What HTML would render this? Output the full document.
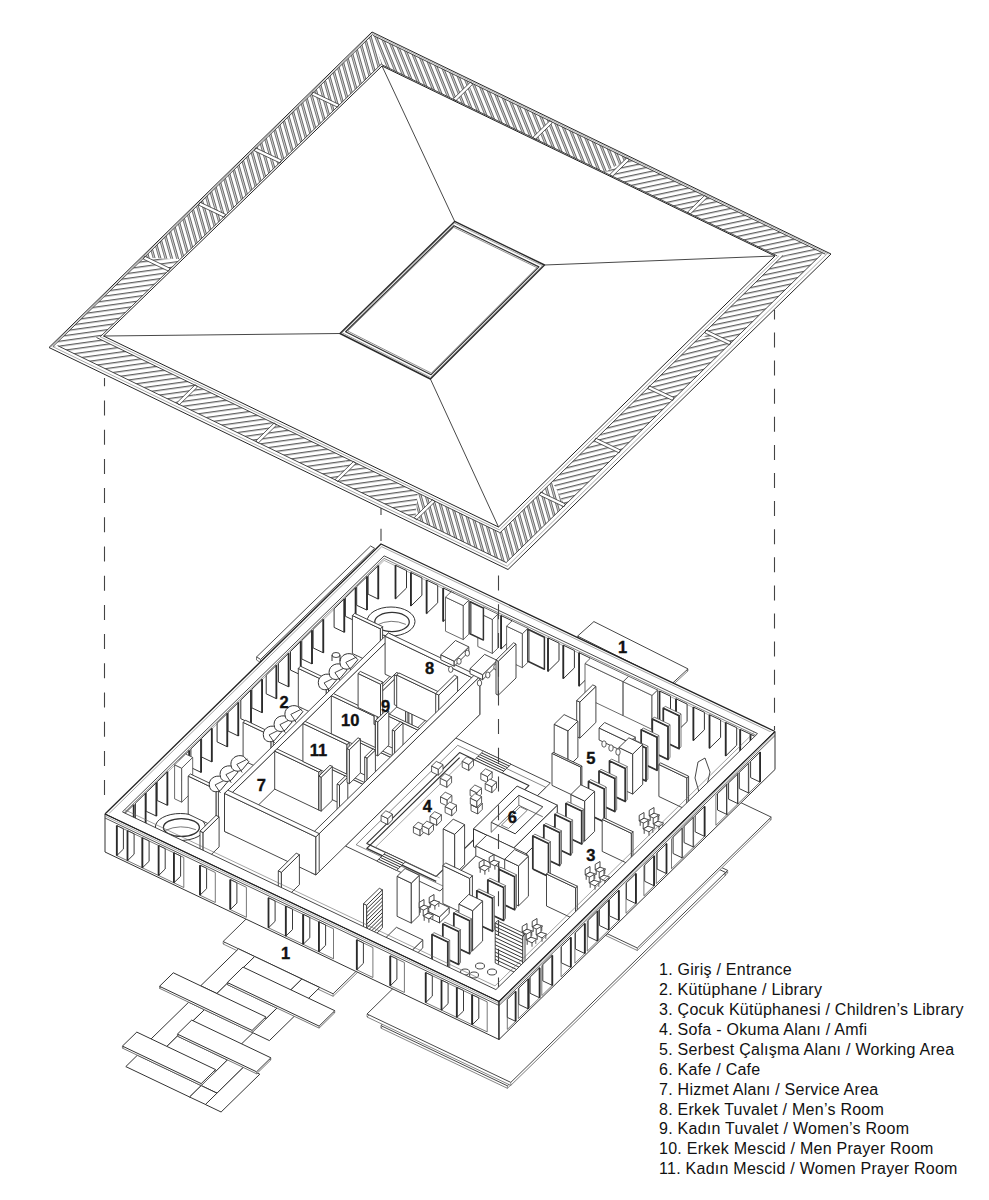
<!DOCTYPE html>
<html><head><meta charset="utf-8"><style>
html,body{margin:0;padding:0;background:#fff;}
body{width:989px;height:1200px;overflow:hidden;position:relative;font-family:"Liberation Sans",sans-serif;}
svg{position:absolute;left:0;top:0;}
#leg{position:absolute;left:659px;top:960.2px;font-size:16px;letter-spacing:0.26px;line-height:19.9px;color:#111;white-space:nowrap;}
</style></head><body>
<svg width="989" height="1200" viewBox="0 0 989 1200"><polygon points="57.7,345.7 178,403.8 204.6,389.8 96.5,337.5" fill="url(#h92)" stroke="none" stroke-linejoin="round" />
<polygon points="178,403.8 257,442 275.5,424.1 204.6,389.8" fill="url(#h92)" stroke="none" stroke-linejoin="round" />
<polygon points="257,442 336.4,480.4 346.9,458.6 275.5,424.1" fill="url(#h92)" stroke="none" stroke-linejoin="round" />
<polygon points="336.4,480.4 415.4,518.6 417.9,492.9 346.9,458.6" fill="url(#h92)" stroke="none" stroke-linejoin="round" />
<polygon points="415.4,518.6 506.5,562.7 499.7,532.5 417.9,492.9" fill="url(#h174)" stroke="none" stroke-linejoin="round" />
<polygon points="179.1,405 197.5,387 195.3,384.7 176.9,402.7" fill="#fff" stroke="#333" stroke-width="0.8" stroke-linejoin="round" />
<polygon points="258.1,443.2 276.5,425.2 274.3,422.9 255.9,440.9" fill="#fff" stroke="#333" stroke-width="0.8" stroke-linejoin="round" />
<polygon points="337.5,481.6 355.9,463.6 353.7,461.3 335.3,479.3" fill="#fff" stroke="#333" stroke-width="0.8" stroke-linejoin="round" />
<polygon points="416.5,519.8 434.9,501.8 432.7,499.5 414.3,517.5" fill="#fff" stroke="#333" stroke-width="0.8" stroke-linejoin="round" />
<polygon points="52.8,346.7 144,257.7 180.4,259 100.3,336.7" fill="url(#h92)" stroke="none" stroke-linejoin="round" />
<polygon points="144,257.7 199.3,203.7 229.1,211.8 180.4,259" fill="url(#h174)" stroke="none" stroke-linejoin="round" />
<polygon points="199.3,203.7 255,149.3 278,164.3 229.1,211.8" fill="url(#h174)" stroke="none" stroke-linejoin="round" />
<polygon points="255,149.3 312.2,93.4 328.3,115.5 278,164.3" fill="url(#h174)" stroke="none" stroke-linejoin="round" />
<polygon points="312.2,93.4 372.7,34.4 381.4,64 328.3,115.5" fill="url(#h174)" stroke="none" stroke-linejoin="round" />
<polygon points="143.3,259.1 168.6,271.2 170,268.3 144.7,256.2" fill="#fff" stroke="#333" stroke-width="0.8" stroke-linejoin="round" />
<polygon points="198.6,205.1 224.2,217.3 225.6,214.4 200,202.2" fill="#fff" stroke="#333" stroke-width="0.8" stroke-linejoin="round" />
<polygon points="254.3,150.8 280.1,163 281.5,160.1 255.7,147.9" fill="#fff" stroke="#333" stroke-width="0.8" stroke-linejoin="round" />
<polygon points="311.6,94.9 337.6,107.2 339,104.4 312.9,92" fill="#fff" stroke="#333" stroke-width="0.8" stroke-linejoin="round" />
<polygon points="373,35.4 471.6,83.1 467.8,106.3 381.6,64.6" fill="url(#h168)" stroke="none" stroke-linejoin="round" />
<polygon points="471.6,83.1 551.2,121.6 537.5,140 467.8,106.3" fill="url(#h168)" stroke="none" stroke-linejoin="round" />
<polygon points="551.2,121.6 628.2,158.8 604.7,172.5 537.5,140" fill="url(#h168)" stroke="none" stroke-linejoin="round" />
<polygon points="628.2,158.8 706,196.4 672.8,205.4 604.7,172.5" fill="url(#h88)" stroke="none" stroke-linejoin="round" />
<polygon points="706,196.4 825.4,254.2 777.2,255.9 672.8,205.4" fill="url(#h88)" stroke="none" stroke-linejoin="round" />
<polygon points="470.5,82 453.4,98.7 455.6,101 472.7,84.2" fill="#fff" stroke="#333" stroke-width="0.8" stroke-linejoin="round" />
<polygon points="550.1,120.5 533,137.2 535.2,139.5 552.4,122.8" fill="#fff" stroke="#333" stroke-width="0.8" stroke-linejoin="round" />
<polygon points="627,157.7 609.9,174.4 612.1,176.7 629.3,159.9" fill="#fff" stroke="#333" stroke-width="0.8" stroke-linejoin="round" />
<polygon points="704.8,195.3 687.7,212 690,214.3 707.1,197.6" fill="#fff" stroke="#333" stroke-width="0.8" stroke-linejoin="round" />
<polygon points="821.5,254.3 730.4,343.3 701.1,335.8 782.8,255.7" fill="url(#h88)" stroke="none" stroke-linejoin="round" />
<polygon points="730.4,343.3 673.4,399.1 649.8,386 701.1,335.8" fill="url(#h86)" stroke="none" stroke-linejoin="round" />
<polygon points="673.4,399.1 619.8,451.4 601.7,433.1 649.8,386" fill="url(#h86)" stroke="none" stroke-linejoin="round" />
<polygon points="619.8,451.4 564.7,505.3 552.2,481.7 601.7,433.1" fill="url(#h86)" stroke="none" stroke-linejoin="round" />
<polygon points="564.7,505.3 506.4,562.3 499.8,533 552.2,481.7" fill="url(#h174)" stroke="none" stroke-linejoin="round" />
<polygon points="731.1,341.9 706.2,330 704.8,332.9 729.7,344.8" fill="#fff" stroke="#333" stroke-width="0.8" stroke-linejoin="round" />
<polygon points="674.1,397.6 649.2,385.8 647.9,388.7 672.7,400.5" fill="#fff" stroke="#333" stroke-width="0.8" stroke-linejoin="round" />
<polygon points="620.5,450 595.8,438.2 594.4,441.1 619.1,452.9" fill="#fff" stroke="#333" stroke-width="0.8" stroke-linejoin="round" />
<polygon points="565.4,503.9 540.7,492.1 539.3,495 564,506.8" fill="#fff" stroke="#333" stroke-width="0.8" stroke-linejoin="round" />
<defs><pattern id="h92" width="40" height="4.8" patternUnits="userSpaceOnUse" patternTransform="rotate(-8)"><rect width="40" height="4.8" fill="#fff"/><line x1="0" y1="0.7" x2="40" y2="0.7" stroke="#2a2a2a" stroke-width="1.15"/></pattern><pattern id="h174" width="40" height="5.6" patternUnits="userSpaceOnUse" patternTransform="rotate(74)"><rect width="40" height="5.6" fill="#fff"/><line x1="0" y1="0.6" x2="40" y2="0.6" stroke="#333" stroke-width="0.85"/><line x1="0" y1="2.2" x2="40" y2="2.2" stroke="#444" stroke-width="0.85"/></pattern><pattern id="h168" width="40" height="5.6" patternUnits="userSpaceOnUse" patternTransform="rotate(68)"><rect width="40" height="5.6" fill="#fff"/><line x1="0" y1="0.6" x2="40" y2="0.6" stroke="#333" stroke-width="0.85"/><line x1="0" y1="2.2" x2="40" y2="2.2" stroke="#444" stroke-width="0.85"/></pattern><pattern id="h88" width="40" height="4.8" patternUnits="userSpaceOnUse" patternTransform="rotate(-12)"><rect width="40" height="4.8" fill="#fff"/><line x1="0" y1="0.7" x2="40" y2="0.7" stroke="#2a2a2a" stroke-width="1.15"/></pattern><pattern id="h86" width="40" height="4.8" patternUnits="userSpaceOnUse" patternTransform="rotate(-14)"><rect width="40" height="4.8" fill="#fff"/><line x1="0" y1="0.7" x2="40" y2="0.7" stroke="#2a2a2a" stroke-width="1.15"/></pattern></defs>
<line x1="57.7" y1="345.7" x2="506.5" y2="562.7" stroke="#333" stroke-width="0.9" />
<line x1="52.9" y1="346.7" x2="507.3" y2="566.4" stroke="#777" stroke-width="0.6" />
<line x1="96.5" y1="337.5" x2="499.7" y2="532.5" stroke="#333" stroke-width="0.9" />
<line x1="100.1" y1="336.7" x2="499.1" y2="529.8" stroke="#777" stroke-width="0.6" />
<line x1="52.8" y1="346.7" x2="372.7" y2="34.4" stroke="#333" stroke-width="0.9" />
<line x1="50.7" y1="347.1" x2="372.3" y2="33.1" stroke="#777" stroke-width="0.6" />
<line x1="100.3" y1="336.7" x2="381.4" y2="64" stroke="#333" stroke-width="0.9" />
<line x1="373" y1="35.4" x2="825.4" y2="254.2" stroke="#333" stroke-width="0.9" />
<line x1="372.4" y1="33.5" x2="828.5" y2="254.1" stroke="#777" stroke-width="0.6" />
<line x1="381.6" y1="64.6" x2="777.2" y2="255.9" stroke="#333" stroke-width="0.9" />
<line x1="821.5" y1="254.3" x2="506.4" y2="562.3" stroke="#333" stroke-width="0.9" />
<line x1="826.7" y1="254.2" x2="507.3" y2="566.2" stroke="#777" stroke-width="0.6" />
<line x1="782.8" y1="255.7" x2="499.8" y2="533" stroke="#333" stroke-width="0.9" />
<line x1="778.9" y1="255.9" x2="499.2" y2="530" stroke="#777" stroke-width="0.6" />
<polygon points="49,347.5 372,32 831,254 508,569.5" fill="none" stroke="#2a2a2a" stroke-width="1.0" stroke-linejoin="round" />
<polygon points="103.6,336 382,66 775,256 498.5,527" fill="none" stroke="#222" stroke-width="1.0" stroke-linejoin="round" />
<line x1="103.6" y1="336" x2="340" y2="333.5" stroke="#333" stroke-width="0.9" />
<line x1="382" y1="66" x2="454.7" y2="221.4" stroke="#333" stroke-width="0.9" />
<line x1="775" y1="256" x2="544.5" y2="265" stroke="#333" stroke-width="0.9" />
<line x1="498.5" y1="527" x2="430.4" y2="379" stroke="#333" stroke-width="0.9" />
<polygon points="340,333.5 454.7,221.4 544.5,265 430.4,379" fill="#fff" stroke="#2a2a2a" stroke-width="1.4" stroke-linejoin="round" />
<polygon points="342.1,332.8 454.5,223 542.5,265.7 430.6,377.4" fill="none" stroke="#777" stroke-width="0.7" stroke-linejoin="round" />
<polygon points="345.6,331.7 454,225.7 538.9,266.9 431.1,374.7" fill="none" stroke="#333" stroke-width="1.2" stroke-linejoin="round" />
<polygon points="347.7,331 453.8,227.3 536.9,267.6 431.3,373.1" fill="none" stroke="#666" stroke-width="0.7" stroke-linejoin="round" />
<line x1="104.5" y1="378" x2="104.5" y2="805" stroke="#444" stroke-width="1.1" stroke-dasharray="15 14.20" stroke-dashoffset="6.70"/>
<line x1="774.5" y1="310" x2="774.5" y2="730" stroke="#444" stroke-width="1.1" stroke-dasharray="15 13.10" stroke-dashoffset="5.60"/>
<line x1="381" y1="508" x2="381" y2="541" stroke="#444" stroke-width="1.1" stroke-dasharray="15 13.70" stroke-dashoffset="8.00"/>
<polygon points="256.5,657 370.6,546 374.6,548.3 260.5,659.5" fill="#fff" stroke="#333" stroke-width="0.9" stroke-linejoin="round" />
<polygon points="256.5,657 260.5,659.5 260.5,662.5 256.5,660" fill="#fff" stroke="#444" stroke-width="0.7" stroke-linejoin="round" />
<line x1="260.5" y1="662.5" x2="300" y2="624" stroke="#444" stroke-width="0.7" />
<polygon points="577.6,638.1 593.9,623.6 688,670.9 672.3,685.4" fill="#fff" stroke="#555" stroke-width="0.7200000000000001" stroke-linejoin="round" />
<line x1="577.6" y1="636.1" x2="577.6" y2="638.1" stroke="#555" stroke-width="0.6" />
<line x1="593.9" y1="621.6" x2="593.9" y2="623.6" stroke="#555" stroke-width="0.6" />
<line x1="688" y1="668.9" x2="688" y2="670.9" stroke="#555" stroke-width="0.6" />
<line x1="672.3" y1="683.4" x2="672.3" y2="685.4" stroke="#555" stroke-width="0.6" />
<polygon points="577.6,636.1 593.9,621.6 688,668.9 672.3,683.4" fill="#fff" stroke="#333" stroke-width="0.9" stroke-linejoin="round" />
<polygon points="380.9,1028.1 507.4,1088.3 727.7,872.9 652.8,837.2 465.1,1020.9 413.5,996.3" fill="#fff" stroke="#555" stroke-width="0.7200000000000001" stroke-linejoin="round" />
<line x1="380.9" y1="1025.6" x2="380.9" y2="1028.1" stroke="#555" stroke-width="0.6" />
<line x1="507.4" y1="1085.8" x2="507.4" y2="1088.3" stroke="#555" stroke-width="0.6" />
<line x1="727.7" y1="870.4" x2="727.7" y2="872.9" stroke="#555" stroke-width="0.6" />
<line x1="652.8" y1="834.8" x2="652.8" y2="837.2" stroke="#555" stroke-width="0.6" />
<line x1="465.1" y1="1018.4" x2="465.1" y2="1020.9" stroke="#555" stroke-width="0.6" />
<line x1="413.5" y1="993.8" x2="413.5" y2="996.3" stroke="#555" stroke-width="0.6" />
<polygon points="380.9,1025.6 507.4,1085.8 727.7,870.4 652.8,834.8 465.1,1018.4 413.5,993.8" fill="#fff" stroke="#333" stroke-width="0.9" stroke-linejoin="round" />
<polygon points="367,1017 510.8,1085.4 725.5,875.4 668.4,848.2 484.8,1027.7 398.1,986.5" fill="#fff" stroke="#555" stroke-width="0.7200000000000001" stroke-linejoin="round" />
<line x1="367" y1="1014" x2="367" y2="1017" stroke="#555" stroke-width="0.6" />
<line x1="510.8" y1="1082.4" x2="510.8" y2="1085.4" stroke="#555" stroke-width="0.6" />
<line x1="725.5" y1="872.4" x2="725.5" y2="875.4" stroke="#555" stroke-width="0.6" />
<line x1="668.4" y1="845.2" x2="668.4" y2="848.2" stroke="#555" stroke-width="0.6" />
<line x1="484.8" y1="1024.7" x2="484.8" y2="1027.7" stroke="#555" stroke-width="0.6" />
<line x1="398.1" y1="983.5" x2="398.1" y2="986.5" stroke="#555" stroke-width="0.6" />
<polygon points="367,1014 510.8,1082.4 725.5,872.4 668.4,845.2 484.8,1024.7 398.1,983.5" fill="#fff" stroke="#333" stroke-width="0.9" stroke-linejoin="round" />
<polygon points="605.8,935.5 637.3,950.5 771.2,819.6 739.7,804.6" fill="#fff" stroke="#555" stroke-width="0.7200000000000001" stroke-linejoin="round" />
<line x1="605.8" y1="933" x2="605.8" y2="935.5" stroke="#555" stroke-width="0.6" />
<line x1="637.3" y1="948" x2="637.3" y2="950.5" stroke="#555" stroke-width="0.6" />
<line x1="771.2" y1="817.1" x2="771.2" y2="819.6" stroke="#555" stroke-width="0.6" />
<line x1="739.7" y1="802.1" x2="739.7" y2="804.6" stroke="#555" stroke-width="0.6" />
<polygon points="605.8,933 637.3,948 771.2,817.1 739.7,802.1" fill="#fff" stroke="#333" stroke-width="0.9" stroke-linejoin="round" />
<polygon points="223.1,944 333.1,996.3 383.6,946.9 273.7,894.6" fill="#fff" stroke="#555" stroke-width="0.7200000000000001" stroke-linejoin="round" />
<line x1="223.1" y1="941.5" x2="223.1" y2="944" stroke="#555" stroke-width="0.6" />
<line x1="333.1" y1="993.8" x2="333.1" y2="996.3" stroke="#555" stroke-width="0.6" />
<line x1="383.6" y1="944.4" x2="383.6" y2="946.9" stroke="#555" stroke-width="0.6" />
<line x1="273.7" y1="892.1" x2="273.7" y2="894.6" stroke="#555" stroke-width="0.6" />
<polygon points="223.1,941.5 333.1,993.8 383.6,944.4 273.7,892.1" fill="#fff" stroke="#333" stroke-width="0.9" stroke-linejoin="round" />
<polygon points="200.7,985.8 238.5,948.8 254.7,956.5 216.9,993.5" fill="#fff" stroke="#333" stroke-width="1.0" stroke-linejoin="round" />
<polygon points="215.5,994.9 226.5,984.1 276.9,1008.1 265.9,1018.9" fill="#fff" stroke="#333" stroke-width="1.0" stroke-linejoin="round" />
<polygon points="242.2,968.7 254.7,956.5 301.9,979 289.5,991.2" fill="#fff" stroke="#333" stroke-width="1.0" stroke-linejoin="round" />
<polygon points="289.5,991.2 301.9,979 319.7,987.5 307.3,999.6" fill="#fff" stroke="#333" stroke-width="1.0" stroke-linejoin="round" />
<polygon points="252.1,1032.4 292.7,992.7 310,1000.9 269.4,1040.6" fill="#fff" stroke="#333" stroke-width="1.0" stroke-linejoin="round" />
<polygon points="150.6,1039.4 188.7,1002.2 204.4,1009.7 166.3,1046.9" fill="#fff" stroke="#333" stroke-width="1.0" stroke-linejoin="round" />
<polygon points="165.5,1047.8 177.4,1036.1 227.4,1060 215.6,1071.6" fill="#fff" stroke="#333" stroke-width="1.0" stroke-linejoin="round" />
<polygon points="191.7,1022.1 204.4,1009.7 252.9,1032.8 240.2,1045.2" fill="#fff" stroke="#333" stroke-width="1.0" stroke-linejoin="round" />
<polygon points="201.2,1085.6 241.8,1045.9 257.5,1053.4 217,1093.1" fill="#fff" stroke="#333" stroke-width="1.0" stroke-linejoin="round" />
<polygon points="125.8,1066.6 137.4,1055.2 201.2,1085.6 189.6,1097" fill="#fff" stroke="#333" stroke-width="1.0" stroke-linejoin="round" />
<polygon points="189.6,1097 201.2,1085.6 217.7,1093.5 206.2,1104.8" fill="#fff" stroke="#333" stroke-width="1.0" stroke-linejoin="round" />
<polygon points="205.4,1104.5 244,1066.7 259.8,1074.2 221.1,1112" fill="#fff" stroke="#333" stroke-width="1.0" stroke-linejoin="round" />
<polygon points="159.5,988.3 173.3,974.8 265.9,1018.9 252.1,1032.4" fill="#fff" stroke="#555" stroke-width="0.8" stroke-linejoin="round" />
<line x1="159.5" y1="986.3" x2="159.5" y2="988.3" stroke="#555" stroke-width="0.6" />
<line x1="173.3" y1="972.8" x2="173.3" y2="974.8" stroke="#555" stroke-width="0.6" />
<line x1="265.9" y1="1016.9" x2="265.9" y2="1018.9" stroke="#555" stroke-width="0.6" />
<line x1="252.1" y1="1030.4" x2="252.1" y2="1032.4" stroke="#555" stroke-width="0.6" />
<polygon points="159.5,986.3 173.3,972.8 265.9,1016.9 252.1,1030.4" fill="#fff" stroke="#333" stroke-width="1.0" stroke-linejoin="round" />
<polygon points="227.3,984.5 243,969.1 334.8,1012.7 319.1,1028.1" fill="#fff" stroke="#555" stroke-width="0.8" stroke-linejoin="round" />
<line x1="227.3" y1="982.5" x2="227.3" y2="984.5" stroke="#555" stroke-width="0.6" />
<line x1="243" y1="967.1" x2="243" y2="969.1" stroke="#555" stroke-width="0.6" />
<line x1="334.8" y1="1010.7" x2="334.8" y2="1012.7" stroke="#555" stroke-width="0.6" />
<line x1="319.1" y1="1026.1" x2="319.1" y2="1028.1" stroke="#555" stroke-width="0.6" />
<polygon points="227.3,982.5 243,967.1 334.8,1010.7 319.1,1026.1" fill="#fff" stroke="#333" stroke-width="1.0" stroke-linejoin="round" />
<polygon points="122.4,1048.1 136.8,1034.1 215.6,1071.6 201.2,1085.6" fill="#fff" stroke="#555" stroke-width="0.8" stroke-linejoin="round" />
<line x1="122.4" y1="1046.1" x2="122.4" y2="1048.1" stroke="#555" stroke-width="0.6" />
<line x1="136.8" y1="1032.1" x2="136.8" y2="1034.1" stroke="#555" stroke-width="0.6" />
<line x1="215.6" y1="1069.6" x2="215.6" y2="1071.6" stroke="#555" stroke-width="0.6" />
<line x1="201.2" y1="1083.6" x2="201.2" y2="1085.6" stroke="#555" stroke-width="0.6" />
<polygon points="122.4,1046.1 136.8,1032.1 215.6,1069.6 201.2,1083.6" fill="#fff" stroke="#333" stroke-width="1.0" stroke-linejoin="round" />
<polygon points="177.4,1036.1 191.7,1022.1 270.9,1059.8 256.6,1073.8" fill="#fff" stroke="#555" stroke-width="0.8" stroke-linejoin="round" />
<line x1="177.4" y1="1034.1" x2="177.4" y2="1036.1" stroke="#555" stroke-width="0.6" />
<line x1="191.7" y1="1020.1" x2="191.7" y2="1022.1" stroke="#555" stroke-width="0.6" />
<line x1="270.9" y1="1057.8" x2="270.9" y2="1059.8" stroke="#555" stroke-width="0.6" />
<line x1="256.6" y1="1071.8" x2="256.6" y2="1073.8" stroke="#555" stroke-width="0.6" />
<polygon points="177.4,1034.1 191.7,1020.1 270.9,1057.8 256.6,1071.8" fill="#fff" stroke="#333" stroke-width="1.0" stroke-linejoin="round" />
<polygon points="105,852 381,582 775,769.5 499,1039.5" fill="#fff" stroke="none" stroke-linejoin="round" />
<polygon points="105,814 381,544 384.1,555.9 122.4,811.9" fill="#fff" stroke="none" stroke-linejoin="round" />
<polygon points="381,544 775,731.5 757.6,733.6 384.1,555.9" fill="#fff" stroke="none" stroke-linejoin="round" />
<polygon points="122.4,811.9 384.1,555.9 384.1,593.9 122.4,849.9" fill="#fff" stroke="none" stroke-linejoin="round" />
<polygon points="384.1,555.9 757.6,733.6 757.6,771.6 384.1,593.9" fill="#fff" stroke="none" stroke-linejoin="round" />
<polyline points="122.4,811.9 384.1,555.9 757.6,733.6" fill="none" stroke="#333" stroke-width="0.9" stroke-linejoin="round" />
<polyline points="122.4,814.4 384.1,558.4 757.6,736.1" fill="none" stroke="#555" stroke-width="0.7" stroke-linejoin="round" />
<polyline points="122.4,816.4 384.1,560.4 757.6,738.1" fill="none" stroke="#777" stroke-width="0.6" stroke-linejoin="round" />
<polyline points="105,814 381,544 775,731.5" fill="none" stroke="#222" stroke-width="1.3" stroke-linejoin="round" />
<polyline points="108.5,814 381.7,546.7 771.8,732.4" fill="none" stroke="#666" stroke-width="0.6" stroke-linejoin="round" />
<polygon points="133.7,804.8 133.7,804.8 123.5,814.8 123.5,833.4 133.7,838.3" fill="#fff" stroke="#333" stroke-width="1.0" stroke-linejoin="round" />
<line x1="133.7" y1="804.8" x2="133.7" y2="838.3" stroke="#2a2a2a" stroke-width="1.8" />
<polygon points="145.6,793.2 145.6,793.2 135.4,803.2 135.4,821.8 145.6,826.7" fill="#fff" stroke="#333" stroke-width="1.0" stroke-linejoin="round" />
<line x1="145.6" y1="793.2" x2="145.6" y2="826.7" stroke="#2a2a2a" stroke-width="1.8" />
<polygon points="156.4,782.6 156.4,782.6 146.2,792.6 146.2,811.3 156.4,816.1" fill="#fff" stroke="#333" stroke-width="1.0" stroke-linejoin="round" />
<line x1="156.4" y1="782.6" x2="156.4" y2="816.1" stroke="#2a2a2a" stroke-width="1.8" />
<polygon points="167.4,771.8 167.4,771.8 157.2,781.8 157.2,800.5 167.4,805.3" fill="#fff" stroke="#333" stroke-width="1.0" stroke-linejoin="round" />
<line x1="167.4" y1="771.8" x2="167.4" y2="805.3" stroke="#2a2a2a" stroke-width="1.8" />
<polygon points="189.2,750.5 189.2,750.5 179,760.5 179,779.2 189.2,784" fill="#fff" stroke="#333" stroke-width="1.0" stroke-linejoin="round" />
<line x1="189.2" y1="750.5" x2="189.2" y2="784" stroke="#2a2a2a" stroke-width="1.8" />
<polygon points="201.1,738.9 201.1,738.9 190.9,748.9 190.9,767.5 201.1,772.4" fill="#fff" stroke="#333" stroke-width="1.0" stroke-linejoin="round" />
<line x1="201.1" y1="738.9" x2="201.1" y2="772.4" stroke="#2a2a2a" stroke-width="1.8" />
<polygon points="211.8,728.4 211.8,728.4 201.6,738.4 201.6,757 211.8,761.9" fill="#fff" stroke="#333" stroke-width="1.0" stroke-linejoin="round" />
<line x1="211.8" y1="728.4" x2="211.8" y2="761.9" stroke="#2a2a2a" stroke-width="1.8" />
<polygon points="227.3,713.3 227.3,713.3 217.1,723.2 217.1,741.9 227.3,746.8" fill="#fff" stroke="#333" stroke-width="1.0" stroke-linejoin="round" />
<line x1="227.3" y1="713.3" x2="227.3" y2="746.8" stroke="#2a2a2a" stroke-width="1.8" />
<polygon points="238.3,702.5 238.3,702.5 228.1,712.4 228.1,731.1 238.3,736" fill="#fff" stroke="#333" stroke-width="1.0" stroke-linejoin="round" />
<line x1="238.3" y1="702.5" x2="238.3" y2="736" stroke="#2a2a2a" stroke-width="1.8" />
<polygon points="251,690 251,690 240.8,700 240.8,718.7 251,723.5" fill="#fff" stroke="#333" stroke-width="1.0" stroke-linejoin="round" />
<line x1="251" y1="690" x2="251" y2="723.5" stroke="#2a2a2a" stroke-width="1.8" />
<polygon points="262.1,679.2 262.1,679.2 251.9,689.2 251.9,707.9 262.1,712.7" fill="#fff" stroke="#333" stroke-width="1.0" stroke-linejoin="round" />
<line x1="262.1" y1="679.2" x2="262.1" y2="712.7" stroke="#2a2a2a" stroke-width="1.8" />
<polygon points="276.4,665.2 276.4,665.2 266.2,675.2 266.2,693.8 276.4,698.7" fill="#fff" stroke="#333" stroke-width="1.0" stroke-linejoin="round" />
<line x1="276.4" y1="665.2" x2="276.4" y2="698.7" stroke="#2a2a2a" stroke-width="1.8" />
<polygon points="288.6,653.3 288.6,653.3 278.4,663.3 278.4,682 288.6,686.8" fill="#fff" stroke="#333" stroke-width="1.0" stroke-linejoin="round" />
<line x1="288.6" y1="653.3" x2="288.6" y2="686.8" stroke="#2a2a2a" stroke-width="1.8" />
<polygon points="300.7,641.4 300.7,641.4 290.5,651.4 290.5,670.1 300.7,674.9" fill="#fff" stroke="#333" stroke-width="1.0" stroke-linejoin="round" />
<line x1="300.7" y1="641.4" x2="300.7" y2="674.9" stroke="#2a2a2a" stroke-width="1.8" />
<polygon points="312,630.4 312,630.4 301.8,640.4 301.8,659 312,663.9" fill="#fff" stroke="#333" stroke-width="1.0" stroke-linejoin="round" />
<line x1="312" y1="630.4" x2="312" y2="663.9" stroke="#2a2a2a" stroke-width="1.8" />
<polygon points="323.3,619.3 323.3,619.3 313.1,629.3 313.1,647.9 323.3,652.8" fill="#fff" stroke="#333" stroke-width="1.0" stroke-linejoin="round" />
<line x1="323.3" y1="619.3" x2="323.3" y2="652.8" stroke="#2a2a2a" stroke-width="1.8" />
<polygon points="344.3,598.8 344.3,598.8 334.1,608.8 334.1,627.4 344.3,632.3" fill="#fff" stroke="#333" stroke-width="1.0" stroke-linejoin="round" />
<line x1="344.3" y1="598.8" x2="344.3" y2="632.3" stroke="#2a2a2a" stroke-width="1.8" />
<polygon points="355.6,587.7 355.6,587.7 345.4,597.7 345.4,616.3 355.6,621.2" fill="#fff" stroke="#333" stroke-width="1.0" stroke-linejoin="round" />
<line x1="355.6" y1="587.7" x2="355.6" y2="621.2" stroke="#2a2a2a" stroke-width="1.8" />
<polygon points="367,576.6 367,576.6 356.7,586.6 356.7,605.3 367,610.1" fill="#fff" stroke="#333" stroke-width="1.0" stroke-linejoin="round" />
<line x1="367" y1="576.6" x2="367" y2="610.1" stroke="#2a2a2a" stroke-width="1.8" />
<polygon points="378.3,565.6 378.3,565.6 368.1,575.6 368.1,594.2 378.3,599.1" fill="#fff" stroke="#333" stroke-width="1.0" stroke-linejoin="round" />
<line x1="378.3" y1="565.6" x2="378.3" y2="599.1" stroke="#2a2a2a" stroke-width="1.8" />
<polygon points="174.6,764.8 181.7,768.2 181.7,802.2 174.6,798.8" fill="#fff" stroke="#444" stroke-width="0.8" stroke-linejoin="round" />
<polygon points="181.7,768.2 192.7,757.4 192.7,791.4 181.7,802.2" fill="#fff" stroke="#444" stroke-width="0.8" stroke-linejoin="round" />
<polygon points="174.6,764.8 185.6,754 192.7,757.4 181.7,768.2" fill="#fff" stroke="#444" stroke-width="0.8" stroke-linejoin="round" />
<polygon points="395.5,565.3 395.5,565.3 406.5,570.6 406.5,588 395.5,598.8" fill="#fff" stroke="#333" stroke-width="1.0" stroke-linejoin="round" />
<line x1="395.5" y1="565.3" x2="395.5" y2="598.8" stroke="#2a2a2a" stroke-width="1.8" />
<polygon points="410.9,572.6 410.9,572.6 421.9,577.9 421.9,595.3 410.9,606.1" fill="#fff" stroke="#333" stroke-width="1.0" stroke-linejoin="round" />
<line x1="410.9" y1="572.6" x2="410.9" y2="606.1" stroke="#2a2a2a" stroke-width="1.8" />
<polygon points="426.6,580.1 426.6,580.1 437.7,585.4 437.7,602.8 426.6,613.6" fill="#fff" stroke="#333" stroke-width="1.0" stroke-linejoin="round" />
<line x1="426.6" y1="580.1" x2="426.6" y2="613.6" stroke="#2a2a2a" stroke-width="1.8" />
<polygon points="443.2,588 443.2,588 454.2,593.3 454.2,610.7 443.2,621.5" fill="#fff" stroke="#333" stroke-width="1.0" stroke-linejoin="round" />
<line x1="443.2" y1="588" x2="443.2" y2="621.5" stroke="#2a2a2a" stroke-width="1.8" />
<polygon points="501.1,615.6 501.1,615.6 512.1,620.8 512.1,638.3 501.1,649.1" fill="#fff" stroke="#333" stroke-width="1.0" stroke-linejoin="round" />
<line x1="501.1" y1="615.6" x2="501.1" y2="649.1" stroke="#2a2a2a" stroke-width="1.8" />
<polygon points="548,637.9 548,637.9 559,643.1 559,660.6 548,671.4" fill="#fff" stroke="#333" stroke-width="1.0" stroke-linejoin="round" />
<line x1="548" y1="637.9" x2="548" y2="671.4" stroke="#2a2a2a" stroke-width="1.8" />
<polygon points="563.3,645.2 563.3,645.2 574.4,650.5 574.4,667.9 563.3,678.7" fill="#fff" stroke="#333" stroke-width="1.0" stroke-linejoin="round" />
<line x1="563.3" y1="645.2" x2="563.3" y2="678.7" stroke="#2a2a2a" stroke-width="1.8" />
<polygon points="579.1,652.7 579.1,652.7 590.1,658 590.1,675.4 579.1,686.2" fill="#fff" stroke="#333" stroke-width="1.0" stroke-linejoin="round" />
<line x1="579.1" y1="652.7" x2="579.1" y2="686.2" stroke="#2a2a2a" stroke-width="1.8" />
<polygon points="659.5,691 659.5,691 670.5,696.2 670.5,713.7 659.5,724.5" fill="#fff" stroke="#333" stroke-width="1.0" stroke-linejoin="round" />
<line x1="659.5" y1="691" x2="659.5" y2="724.5" stroke="#2a2a2a" stroke-width="1.8" />
<polygon points="676,698.8 676,698.8 687.1,704.1 687.1,721.5 676,732.3" fill="#fff" stroke="#333" stroke-width="1.0" stroke-linejoin="round" />
<line x1="676" y1="698.8" x2="676" y2="732.3" stroke="#2a2a2a" stroke-width="1.8" />
<polygon points="693.4,707.1 693.4,707.1 704.4,712.3 704.4,729.8 693.4,740.6" fill="#fff" stroke="#333" stroke-width="1.0" stroke-linejoin="round" />
<line x1="693.4" y1="707.1" x2="693.4" y2="740.6" stroke="#2a2a2a" stroke-width="1.8" />
<polygon points="709.5,714.8 709.5,714.8 720.6,720 720.6,737.5 709.5,748.3" fill="#fff" stroke="#333" stroke-width="1.0" stroke-linejoin="round" />
<line x1="709.5" y1="714.8" x2="709.5" y2="748.3" stroke="#2a2a2a" stroke-width="1.8" />
<polygon points="725.7,722.5 725.7,722.5 736.7,727.7 736.7,745.2 725.7,756" fill="#fff" stroke="#333" stroke-width="1.0" stroke-linejoin="round" />
<line x1="725.7" y1="722.5" x2="725.7" y2="756" stroke="#2a2a2a" stroke-width="1.8" />
<polygon points="740.2,729.4 740.2,729.4 751.3,734.6 751.3,752.1 740.2,762.9" fill="#fff" stroke="#333" stroke-width="1.0" stroke-linejoin="round" />
<line x1="740.2" y1="729.4" x2="740.2" y2="762.9" stroke="#2a2a2a" stroke-width="1.8" />
<polygon points="750.5,734.3 750.5,734.3 761.5,739.5 761.5,757 750.5,767.8" fill="#fff" stroke="#333" stroke-width="1.0" stroke-linejoin="round" />
<line x1="750.5" y1="734.3" x2="750.5" y2="767.8" stroke="#2a2a2a" stroke-width="1.8" />
<polygon points="445.5,597.2 463.3,605.6 463.3,639.6 445.5,631.2" fill="#fff" stroke="#444" stroke-width="0.8" stroke-linejoin="round" />
<polygon points="463.3,605.6 468.8,600.2 468.8,634.2 463.3,639.6" fill="#fff" stroke="#444" stroke-width="0.8" stroke-linejoin="round" />
<polygon points="445.5,597.2 451,591.8 468.8,600.2 463.3,605.6" fill="#fff" stroke="#444" stroke-width="0.8" stroke-linejoin="round" />
<polygon points="477.8,612.5 492.4,619.5 492.4,653.5 477.8,646.5" fill="#fff" stroke="#444" stroke-width="0.8" stroke-linejoin="round" />
<polygon points="492.4,619.5 497.9,614.1 497.9,648.1 492.4,653.5" fill="#fff" stroke="#444" stroke-width="0.8" stroke-linejoin="round" />
<polygon points="477.8,612.5 483.4,607.1 497.9,614.1 492.4,619.5" fill="#fff" stroke="#444" stroke-width="0.8" stroke-linejoin="round" />
<polygon points="506.6,626.2 522.4,633.7 522.4,667.7 506.6,660.2" fill="#fff" stroke="#444" stroke-width="0.8" stroke-linejoin="round" />
<polygon points="522.4,633.7 527.9,628.3 527.9,662.3 522.4,667.7" fill="#fff" stroke="#444" stroke-width="0.8" stroke-linejoin="round" />
<polygon points="506.6,626.2 512.1,620.8 527.9,628.3 522.4,633.7" fill="#fff" stroke="#444" stroke-width="0.8" stroke-linejoin="round" />
<polygon points="585,663.5 623.2,681.7 623.2,715.7 585,697.5" fill="#fff" stroke="#444" stroke-width="0.8" stroke-linejoin="round" />
<polygon points="623.2,681.7 628.7,676.3 628.7,710.3 623.2,715.7" fill="#fff" stroke="#444" stroke-width="0.8" stroke-linejoin="round" />
<polygon points="585,663.5 590.5,658.1 628.7,676.3 623.2,681.7" fill="#fff" stroke="#444" stroke-width="0.8" stroke-linejoin="round" />
<polygon points="623.2,681.7 652,695.4 652,729.4 623.2,715.7" fill="#fff" stroke="#444" stroke-width="0.8" stroke-linejoin="round" />
<polygon points="652,695.4 657.5,690 657.5,724 652,729.4" fill="#fff" stroke="#444" stroke-width="0.8" stroke-linejoin="round" />
<polygon points="623.2,681.7 628.7,676.3 657.5,690 652,695.4" fill="#fff" stroke="#444" stroke-width="0.8" stroke-linejoin="round" />
<polygon points="470,601.8 483.4,608.1 483.4,640.1 470,633.8" fill="#fff" stroke="#333" stroke-width="1.5" stroke-linejoin="round" />
<line x1="471.5" y1="603.5" x2="471.5" y2="633.5" stroke="#666" stroke-width="0.6" />
<polygon points="527.9,629.3 544.4,637.2 544.4,669.2 527.9,661.3" fill="#fff" stroke="#333" stroke-width="1.5" stroke-linejoin="round" />
<line x1="529.5" y1="631.1" x2="529.5" y2="661.1" stroke="#666" stroke-width="0.6" />
<polygon points="345.4,846 455.8,738 550.4,783 440,891" fill="#fff" stroke="#333" stroke-width="0.9" stroke-linejoin="round" />
<polygon points="356.1,844.7 457.7,745.3 545.9,787.3 444.4,886.7" fill="none" stroke="#555" stroke-width="0.7" stroke-linejoin="round" />
<polygon points="366.8,843.4 459.6,752.6 528.9,785.6 436.2,876.4" fill="#fff" stroke="#333" stroke-width="1.1" stroke-linejoin="round" />
<polyline points="436.2,881.4 366.8,848.4 459.6,757.6" fill="none" stroke="#333" stroke-width="1.2" stroke-linejoin="round" />
<polyline points="439.7,877.9 375.4,847.3 464.6,760" fill="none" stroke="#666" stroke-width="0.6" stroke-linejoin="round" />
<polygon points="474.5,759.8 483.4,751.1 511,764.2 502.1,772.9" fill="#fff" stroke="#333" stroke-width="0.8" stroke-linejoin="round" />
<line x1="481.6" y1="752.9" x2="509.2" y2="766" stroke="#333" stroke-width="1.0" />
<line x1="479.8" y1="754.6" x2="507.4" y2="767.7" stroke="#333" stroke-width="1.0" />
<line x1="478.1" y1="756.3" x2="505.7" y2="769.4" stroke="#333" stroke-width="1.0" />
<line x1="476.3" y1="758" x2="503.9" y2="771.2" stroke="#333" stroke-width="1.0" />
<polygon points="376.9,861 385.8,852.4 405.5,861.7 396.6,870.4" fill="#fff" stroke="#333" stroke-width="0.8" stroke-linejoin="round" />
<line x1="378.7" y1="859.3" x2="398.4" y2="868.6" stroke="#333" stroke-width="1.0" />
<line x1="380.5" y1="857.5" x2="400.2" y2="866.9" stroke="#333" stroke-width="1.0" />
<line x1="382.2" y1="855.8" x2="401.9" y2="865.2" stroke="#333" stroke-width="1.0" />
<line x1="384" y1="854.1" x2="403.7" y2="863.5" stroke="#333" stroke-width="1.0" />
<polygon points="381.1,815.4 387.8,818.6 387.8,824.6 381.1,821.4" fill="#fff" stroke="#333" stroke-width="0.8" stroke-linejoin="round" />
<polygon points="387.8,818.6 392.4,814 392.4,820 387.8,824.6" fill="#fff" stroke="#333" stroke-width="0.8" stroke-linejoin="round" />
<polygon points="381.1,815.4 385.8,810.8 392.4,814 387.8,818.6" fill="#fff" stroke="#333" stroke-width="0.8" stroke-linejoin="round" />
<polygon points="431.6,766 438.3,769.2 438.3,775.2 431.6,772" fill="#fff" stroke="#333" stroke-width="0.8" stroke-linejoin="round" />
<polygon points="438.3,769.2 443,764.6 443,770.6 438.3,775.2" fill="#fff" stroke="#333" stroke-width="0.8" stroke-linejoin="round" />
<polygon points="431.6,766 436.3,761.4 443,764.6 438.3,769.2" fill="#fff" stroke="#333" stroke-width="0.8" stroke-linejoin="round" />
<polygon points="440.2,778.2 446.9,781.4 446.9,787.4 440.2,784.2" fill="#fff" stroke="#333" stroke-width="0.8" stroke-linejoin="round" />
<polygon points="446.9,781.4 451.6,776.8 451.6,782.8 446.9,787.4" fill="#fff" stroke="#333" stroke-width="0.8" stroke-linejoin="round" />
<polygon points="440.2,778.2 444.9,773.6 451.6,776.8 446.9,781.4" fill="#fff" stroke="#333" stroke-width="0.8" stroke-linejoin="round" />
<polygon points="440.5,796.8 447.2,800 447.2,806 440.5,802.8" fill="#fff" stroke="#333" stroke-width="0.8" stroke-linejoin="round" />
<polygon points="447.2,800 451.9,795.4 451.9,801.4 447.2,806" fill="#fff" stroke="#333" stroke-width="0.8" stroke-linejoin="round" />
<polygon points="440.5,796.8 445.2,792.2 451.9,795.4 447.2,800" fill="#fff" stroke="#333" stroke-width="0.8" stroke-linejoin="round" />
<polygon points="445.1,806.6 451.8,809.8 451.8,815.8 445.1,812.6" fill="#fff" stroke="#333" stroke-width="0.8" stroke-linejoin="round" />
<polygon points="451.8,809.8 456.5,805.2 456.5,811.2 451.8,815.8" fill="#fff" stroke="#333" stroke-width="0.8" stroke-linejoin="round" />
<polygon points="445.1,806.6 449.8,802 456.5,805.2 451.8,809.8" fill="#fff" stroke="#333" stroke-width="0.8" stroke-linejoin="round" />
<polygon points="430,816.2 436.7,819.4 436.7,825.4 430,822.2" fill="#fff" stroke="#333" stroke-width="0.8" stroke-linejoin="round" />
<polygon points="436.7,819.4 441.4,814.8 441.4,820.8 436.7,825.4" fill="#fff" stroke="#333" stroke-width="0.8" stroke-linejoin="round" />
<polygon points="430,816.2 434.7,811.7 441.4,814.8 436.7,819.4" fill="#fff" stroke="#333" stroke-width="0.8" stroke-linejoin="round" />
<polygon points="413.4,826.8 420.1,830 420.1,836 413.4,832.8" fill="#fff" stroke="#333" stroke-width="0.8" stroke-linejoin="round" />
<polygon points="420.1,830 424.8,825.4 424.8,831.4 420.1,836" fill="#fff" stroke="#333" stroke-width="0.8" stroke-linejoin="round" />
<polygon points="413.4,826.8 418.1,822.2 424.8,825.4 420.1,830" fill="#fff" stroke="#333" stroke-width="0.8" stroke-linejoin="round" />
<polygon points="422.1,825.7 428.8,828.9 428.8,834.9 422.1,831.7" fill="#fff" stroke="#333" stroke-width="0.8" stroke-linejoin="round" />
<polygon points="428.8,828.9 433.5,824.3 433.5,830.3 428.8,834.9" fill="#fff" stroke="#333" stroke-width="0.8" stroke-linejoin="round" />
<polygon points="422.1,825.7 426.8,821.1 433.5,824.3 428.8,828.9" fill="#fff" stroke="#333" stroke-width="0.8" stroke-linejoin="round" />
<polygon points="462.2,761.3 468.8,764.5 468.8,770.5 462.2,767.3" fill="#fff" stroke="#333" stroke-width="0.8" stroke-linejoin="round" />
<polygon points="468.8,764.5 473.5,759.9 473.5,765.9 468.8,770.5" fill="#fff" stroke="#333" stroke-width="0.8" stroke-linejoin="round" />
<polygon points="462.2,761.3 466.8,756.7 473.5,759.9 468.8,764.5" fill="#fff" stroke="#333" stroke-width="0.8" stroke-linejoin="round" />
<polygon points="470.1,789.6 476.8,792.8 476.8,798.8 470.1,795.6" fill="#fff" stroke="#333" stroke-width="0.8" stroke-linejoin="round" />
<polygon points="476.8,792.8 481.5,788.2 481.5,794.2 476.8,798.8" fill="#fff" stroke="#333" stroke-width="0.8" stroke-linejoin="round" />
<polygon points="470.1,789.6 474.8,785 481.5,788.2 476.8,792.8" fill="#fff" stroke="#333" stroke-width="0.8" stroke-linejoin="round" />
<polygon points="471,804.8 477.7,808 477.7,814 471,810.8" fill="#fff" stroke="#333" stroke-width="0.8" stroke-linejoin="round" />
<polygon points="477.7,808 482.3,803.4 482.3,809.4 477.7,814" fill="#fff" stroke="#333" stroke-width="0.8" stroke-linejoin="round" />
<polygon points="471,804.8 475.6,800.2 482.3,803.4 477.7,808" fill="#fff" stroke="#333" stroke-width="0.8" stroke-linejoin="round" />
<polygon points="470.3,798.1 476.9,801.3 476.9,807.3 470.3,804.1" fill="#fff" stroke="#333" stroke-width="0.8" stroke-linejoin="round" />
<polygon points="476.9,801.3 481.6,796.7 481.6,802.7 476.9,807.3" fill="#fff" stroke="#333" stroke-width="0.8" stroke-linejoin="round" />
<polygon points="470.3,798.1 474.9,793.5 481.6,796.7 476.9,801.3" fill="#fff" stroke="#333" stroke-width="0.8" stroke-linejoin="round" />
<polygon points="480.8,773.4 487.5,776.6 487.5,782.6 480.8,779.4" fill="#fff" stroke="#333" stroke-width="0.8" stroke-linejoin="round" />
<polygon points="487.5,776.6 492.2,772 492.2,778 487.5,782.6" fill="#fff" stroke="#333" stroke-width="0.8" stroke-linejoin="round" />
<polygon points="480.8,773.4 485.5,768.8 492.2,772 487.5,776.6" fill="#fff" stroke="#333" stroke-width="0.8" stroke-linejoin="round" />
<polygon points="485.2,783.5 491.9,786.7 491.9,792.7 485.2,789.5" fill="#fff" stroke="#333" stroke-width="0.8" stroke-linejoin="round" />
<polygon points="491.9,786.7 496.5,782.1 496.5,788.1 491.9,792.7" fill="#fff" stroke="#333" stroke-width="0.8" stroke-linejoin="round" />
<polygon points="485.2,783.5 489.8,778.9 496.5,782.1 491.9,786.7" fill="#fff" stroke="#333" stroke-width="0.8" stroke-linejoin="round" />
<ellipse cx="180.4" cy="827" rx="25" ry="13.5" fill="#fff" stroke="#333" stroke-width="1"/>
<ellipse cx="181.4" cy="827.5" rx="18.0" ry="8.91" fill="#fff" stroke="#333" stroke-width="1.3"/>
<path d="M165.4,830.375 Q180.4,823.625 195.9,829.7" fill="none" stroke="#555" stroke-width="0.8"/>
<ellipse cx="391" cy="621.5" rx="24" ry="14.5" fill="#fff" stroke="#333" stroke-width="1"/>
<ellipse cx="392" cy="622.0" rx="17.28" ry="9.57" fill="#fff" stroke="#333" stroke-width="1.3"/>
<path d="M376.6,625.125 Q391,617.875 405.88,624.4" fill="none" stroke="#555" stroke-width="0.8"/>
<polygon points="188.2,776.1 216.2,789.5 216.2,827.5 188.2,814.1" fill="#fff" stroke="#333" stroke-width="0.9" stroke-linejoin="round" />
<polygon points="216.2,789.5 218.4,787.3 218.4,825.3 216.2,827.5" fill="#fff" stroke="#333" stroke-width="0.9" stroke-linejoin="round" />
<polygon points="188.2,776.1 190.4,774 218.4,787.3 216.2,789.5" fill="#fff" stroke="#333" stroke-width="0.9" stroke-linejoin="round" />
<polygon points="243.1,722.4 271.1,735.7 271.1,773.7 243.1,760.4" fill="#fff" stroke="#333" stroke-width="0.9" stroke-linejoin="round" />
<polygon points="271.1,735.7 273.3,733.6 273.3,771.6 271.1,773.7" fill="#fff" stroke="#333" stroke-width="0.9" stroke-linejoin="round" />
<polygon points="243.1,722.4 245.3,720.2 273.3,733.6 271.1,735.7" fill="#fff" stroke="#333" stroke-width="0.9" stroke-linejoin="round" />
<polygon points="298.3,668.4 326.3,681.7 326.3,719.7 298.3,706.4" fill="#fff" stroke="#333" stroke-width="0.9" stroke-linejoin="round" />
<polygon points="326.3,681.7 328.5,679.6 328.5,717.6 326.3,719.7" fill="#fff" stroke="#333" stroke-width="0.9" stroke-linejoin="round" />
<polygon points="298.3,668.4 300.5,666.2 328.5,679.6 326.3,681.7" fill="#fff" stroke="#333" stroke-width="0.9" stroke-linejoin="round" />
<polygon points="352.4,615.5 380.4,628.8 380.4,666.8 352.4,653.5" fill="#fff" stroke="#333" stroke-width="0.9" stroke-linejoin="round" />
<polygon points="380.4,628.8 382.6,626.6 382.6,664.6 380.4,666.8" fill="#fff" stroke="#333" stroke-width="0.9" stroke-linejoin="round" />
<polygon points="352.4,615.5 354.6,613.3 382.6,626.6 380.4,628.8" fill="#fff" stroke="#333" stroke-width="0.9" stroke-linejoin="round" />
<path d="M209.8,787.6 C207.0,779.5 215.1,774.1 221.9,776.8 L227.3,782.2 L220.5,790.3 C216.5,793.0 211.1,791.7 209.8,787.6 Z" fill="#fff" stroke="#333" stroke-width="1"/>
<line x1="215.1" y1="784.9" x2="225.9" y2="779.5" stroke="#333" stroke-width="0.9" />
<line x1="215.1" y1="784.9" x2="220.5" y2="793" stroke="#333" stroke-width="0.9" />
<path d="M220.6,777.4 C217.8,769.2 225.9,763.9 232.7,766.5 L238.1,772.0 L231.3,780.0 C227.3,782.8 221.9,781.4 220.6,777.4 Z" fill="#fff" stroke="#333" stroke-width="1"/>
<line x1="225.9" y1="774.6" x2="236.8" y2="769.2" stroke="#333" stroke-width="0.9" />
<line x1="225.9" y1="774.6" x2="231.3" y2="782.8" stroke="#333" stroke-width="0.9" />
<path d="M231.4,767.1 C228.7,759.0 236.8,753.6 243.5,756.3 L248.9,761.7 L242.2,769.8 C238.1,772.5 232.7,771.1 231.4,767.1 Z" fill="#fff" stroke="#333" stroke-width="1"/>
<line x1="236.8" y1="764.4" x2="247.6" y2="759" stroke="#333" stroke-width="0.9" />
<line x1="236.8" y1="764.4" x2="242.2" y2="772.5" stroke="#333" stroke-width="0.9" />
<path d="M263.8,737.6 C261.1,729.5 269.1,724.1 275.9,726.8 L281.3,732.2 L274.6,740.3 C270.5,743.0 265.1,741.7 263.8,737.6 Z" fill="#fff" stroke="#333" stroke-width="1"/>
<line x1="269.1" y1="734.9" x2="279.9" y2="729.5" stroke="#333" stroke-width="0.9" />
<line x1="269.1" y1="734.9" x2="274.6" y2="743" stroke="#333" stroke-width="0.9" />
<path d="M274.6,727.4 C271.9,719.2 279.9,713.9 286.7,716.5 L292.1,722.0 L285.4,730.0 C281.3,732.8 275.9,731.4 274.6,727.4 Z" fill="#fff" stroke="#333" stroke-width="1"/>
<line x1="279.9" y1="724.6" x2="290.8" y2="719.2" stroke="#333" stroke-width="0.9" />
<line x1="279.9" y1="724.6" x2="285.4" y2="732.8" stroke="#333" stroke-width="0.9" />
<path d="M285.4,717.1 C282.7,709.0 290.8,703.6 297.5,706.3 L302.9,711.7 L296.2,719.8 C292.1,722.5 286.7,721.1 285.4,717.1 Z" fill="#fff" stroke="#333" stroke-width="1"/>
<line x1="290.8" y1="714.4" x2="301.6" y2="709" stroke="#333" stroke-width="0.9" />
<line x1="290.8" y1="714.4" x2="296.2" y2="722.5" stroke="#333" stroke-width="0.9" />
<path d="M318.8,685.6 C316.1,677.5 324.1,672.1 330.9,674.8 L336.3,680.2 L329.6,688.3 C325.5,691.0 320.1,689.7 318.8,685.6 Z" fill="#fff" stroke="#333" stroke-width="1"/>
<line x1="324.1" y1="682.9" x2="334.9" y2="677.5" stroke="#333" stroke-width="0.9" />
<line x1="324.1" y1="682.9" x2="329.6" y2="691" stroke="#333" stroke-width="0.9" />
<path d="M329.6,675.4 C326.9,667.2 334.9,661.9 341.7,664.5 L347.1,670.0 L340.4,678.0 C336.3,680.8 330.9,679.4 329.6,675.4 Z" fill="#fff" stroke="#333" stroke-width="1"/>
<line x1="334.9" y1="672.6" x2="345.8" y2="667.2" stroke="#333" stroke-width="0.9" />
<line x1="334.9" y1="672.6" x2="340.4" y2="680.8" stroke="#333" stroke-width="0.9" />
<path d="M340.4,665.1 C337.7,657.0 345.8,651.6 352.5,654.3 L357.9,659.7 L351.2,667.8 C347.1,670.5 341.7,669.1 340.4,665.1 Z" fill="#fff" stroke="#333" stroke-width="1"/>
<line x1="345.8" y1="662.4" x2="356.6" y2="657" stroke="#333" stroke-width="0.9" />
<line x1="345.8" y1="662.4" x2="351.2" y2="670.5" stroke="#333" stroke-width="0.9" />
<ellipse cx="336" cy="655" rx="4" ry="2.5" fill="#fff" stroke="#333" stroke-width="0.9"/>
<line x1="332" y1="655" x2="332" y2="661" stroke="#222" stroke-width="0.9" />
<line x1="340" y1="655" x2="340" y2="661" stroke="#222" stroke-width="0.9" />
<polygon points="224.5,793.4 229.2,795.6 229.2,833.6 224.5,831.4" fill="#fff" stroke="#333" stroke-width="0.9" stroke-linejoin="round" />
<polygon points="229.2,795.6 393.1,635.3 393.1,673.3 229.2,833.6" fill="#fff" stroke="#333" stroke-width="0.9" stroke-linejoin="round" />
<polygon points="224.5,793.4 388.4,633 393.1,635.3 229.2,795.6" fill="#fff" stroke="#333" stroke-width="0.9" stroke-linejoin="round" />
<polygon points="385.1,636.2 476.5,679.8 476.5,717.8 385.1,674.2" fill="#fff" stroke="#333" stroke-width="0.9" stroke-linejoin="round" />
<polygon points="476.5,679.8 479.8,676.5 479.8,714.5 476.5,717.8" fill="#fff" stroke="#333" stroke-width="0.9" stroke-linejoin="round" />
<polygon points="385.1,636.2 388.4,633 479.8,676.5 476.5,679.8" fill="#fff" stroke="#333" stroke-width="0.9" stroke-linejoin="round" />
<polygon points="274.7,751.1 318.9,772.1 318.9,810.1 274.7,789.1" fill="#fff" stroke="#333" stroke-width="0.9" stroke-linejoin="round" />
<polygon points="318.9,772.1 321.1,769.9 321.1,807.9 318.9,810.1" fill="#fff" stroke="#333" stroke-width="0.9" stroke-linejoin="round" />
<polygon points="274.7,751.1 276.9,748.9 321.1,769.9 318.9,772.1" fill="#fff" stroke="#333" stroke-width="0.9" stroke-linejoin="round" />
<polygon points="302.9,723.5 347,744.5 347,782.5 302.9,761.5" fill="#fff" stroke="#333" stroke-width="0.9" stroke-linejoin="round" />
<polygon points="347,744.5 349.2,742.4 349.2,780.4 347,782.5" fill="#fff" stroke="#333" stroke-width="0.9" stroke-linejoin="round" />
<polygon points="302.9,723.5 305.1,721.4 349.2,742.4 347,744.5" fill="#fff" stroke="#333" stroke-width="0.9" stroke-linejoin="round" />
<polygon points="331.3,695.7 375.4,716.7 375.4,754.7 331.3,733.7" fill="#fff" stroke="#333" stroke-width="0.9" stroke-linejoin="round" />
<polygon points="375.4,716.7 377.6,714.6 377.6,752.6 375.4,754.7" fill="#fff" stroke="#333" stroke-width="0.9" stroke-linejoin="round" />
<polygon points="331.3,695.7 333.5,693.6 377.6,714.6 375.4,716.7" fill="#fff" stroke="#333" stroke-width="0.9" stroke-linejoin="round" />
<polygon points="374.2,694.4 405.7,709.4 405.7,739.4 374.2,724.4" fill="#fff" stroke="#333" stroke-width="0.9" stroke-linejoin="round" />
<polygon points="405.7,709.4 407.9,707.3 407.9,737.3 405.7,739.4" fill="#fff" stroke="#333" stroke-width="0.9" stroke-linejoin="round" />
<polygon points="374.2,694.4 376.4,692.3 407.9,707.3 405.7,709.4" fill="#fff" stroke="#333" stroke-width="0.9" stroke-linejoin="round" />
<polygon points="374.2,694.4 377.3,695.9 377.3,725.9 374.2,724.4" fill="#fff" stroke="#333" stroke-width="0.9" stroke-linejoin="round" />
<polygon points="377.3,695.9 399.7,674.1 399.7,704.1 377.3,725.9" fill="#fff" stroke="#333" stroke-width="0.9" stroke-linejoin="round" />
<polygon points="374.2,694.4 396.5,672.6 399.7,674.1 377.3,695.9" fill="#fff" stroke="#333" stroke-width="0.9" stroke-linejoin="round" />
<polygon points="394.3,674.7 425.9,689.7 425.9,719.7 394.3,704.7" fill="#fff" stroke="#333" stroke-width="0.9" stroke-linejoin="round" />
<polygon points="425.9,689.7 428.1,687.6 428.1,717.6 425.9,719.7" fill="#fff" stroke="#333" stroke-width="0.9" stroke-linejoin="round" />
<polygon points="394.3,674.7 396.5,672.6 428.1,687.6 425.9,689.7" fill="#fff" stroke="#333" stroke-width="0.9" stroke-linejoin="round" />
<polygon points="408.9,701.7 412.1,703.2 412.1,733.2 408.9,731.7" fill="#fff" stroke="#333" stroke-width="0.9" stroke-linejoin="round" />
<polygon points="412.1,703.2 428.1,687.6 428.1,717.6 412.1,733.2" fill="#fff" stroke="#333" stroke-width="0.9" stroke-linejoin="round" />
<polygon points="408.9,701.7 424.9,686.1 428.1,687.6 412.1,703.2" fill="#fff" stroke="#333" stroke-width="0.9" stroke-linejoin="round" />
<polygon points="358.1,673.5 380.5,684.2 380.5,718.2 358.1,707.5" fill="#fff" stroke="#333" stroke-width="0.9" stroke-linejoin="round" />
<polygon points="380.5,684.2 382.7,682.1 382.7,716.1 380.5,718.2" fill="#fff" stroke="#333" stroke-width="0.9" stroke-linejoin="round" />
<polygon points="358.1,673.5 360.3,671.4 382.7,682.1 380.5,684.2" fill="#fff" stroke="#333" stroke-width="0.9" stroke-linejoin="round" />
<polygon points="396.7,675 438,694.7 438,726.7 396.7,707" fill="#fff" stroke="#333" stroke-width="0.9" stroke-linejoin="round" />
<polygon points="438,694.7 440.2,692.6 440.2,724.6 438,726.7" fill="#fff" stroke="#333" stroke-width="0.9" stroke-linejoin="round" />
<polygon points="396.7,675 398.9,672.9 440.2,692.6 438,694.7" fill="#fff" stroke="#333" stroke-width="0.9" stroke-linejoin="round" />
<polygon points="435.7,693.6 438.8,695.1 438.8,727.1 435.7,725.6" fill="#fff" stroke="#333" stroke-width="0.9" stroke-linejoin="round" />
<polygon points="438.8,695.1 457.6,676.8 457.6,708.8 438.8,727.1" fill="#fff" stroke="#333" stroke-width="0.9" stroke-linejoin="round" />
<polygon points="435.7,693.6 454.4,675.2 457.6,676.8 438.8,695.1" fill="#fff" stroke="#333" stroke-width="0.9" stroke-linejoin="round" />
<polygon points="330.4,768.8 373,789 373,819 330.4,798.8" fill="#fff" stroke="#333" stroke-width="0.9" stroke-linejoin="round" />
<polygon points="373,789 374.7,787.4 374.7,817.4 373,819" fill="#fff" stroke="#333" stroke-width="0.9" stroke-linejoin="round" />
<polygon points="330.4,768.8 332.1,767.1 374.7,787.4 373,789" fill="#fff" stroke="#333" stroke-width="0.9" stroke-linejoin="round" />
<polygon points="337.1,784 339.5,785.1 339.5,815.1 337.1,814" fill="#fff" stroke="#333" stroke-width="0.9" stroke-linejoin="round" />
<polygon points="339.5,785.1 347.8,777 347.8,807 339.5,815.1" fill="#fff" stroke="#333" stroke-width="0.9" stroke-linejoin="round" />
<polygon points="337.1,784 345.4,775.9 347.8,777 339.5,785.1" fill="#fff" stroke="#333" stroke-width="0.9" stroke-linejoin="round" />
<polygon points="358,741.8 400.6,762 400.6,792 358,771.8" fill="#fff" stroke="#333" stroke-width="0.9" stroke-linejoin="round" />
<polygon points="400.6,762 402.3,760.4 402.3,790.4 400.6,792" fill="#fff" stroke="#333" stroke-width="0.9" stroke-linejoin="round" />
<polygon points="358,741.8 359.7,740.1 402.3,760.4 400.6,762" fill="#fff" stroke="#333" stroke-width="0.9" stroke-linejoin="round" />
<polygon points="364.7,757 367.1,758.1 367.1,788.1 364.7,787" fill="#fff" stroke="#333" stroke-width="0.9" stroke-linejoin="round" />
<polygon points="367.1,758.1 375.4,750 375.4,780 367.1,788.1" fill="#fff" stroke="#333" stroke-width="0.9" stroke-linejoin="round" />
<polygon points="364.7,757 373,748.9 375.4,750 367.1,758.1" fill="#fff" stroke="#333" stroke-width="0.9" stroke-linejoin="round" />
<polygon points="385.6,714.8 428.2,735 428.2,765 385.6,744.8" fill="#fff" stroke="#333" stroke-width="0.9" stroke-linejoin="round" />
<polygon points="428.2,735 429.9,733.4 429.9,763.4 428.2,765" fill="#fff" stroke="#333" stroke-width="0.9" stroke-linejoin="round" />
<polygon points="385.6,714.8 387.3,713.1 429.9,733.4 428.2,735" fill="#fff" stroke="#333" stroke-width="0.9" stroke-linejoin="round" />
<polygon points="392.3,730 394.7,731.1 394.7,761.1 392.3,760" fill="#fff" stroke="#333" stroke-width="0.9" stroke-linejoin="round" />
<polygon points="394.7,731.1 403,723 403,753 394.7,761.1" fill="#fff" stroke="#333" stroke-width="0.9" stroke-linejoin="round" />
<polygon points="392.3,730 400.6,721.9 403,723 394.7,731.1" fill="#fff" stroke="#333" stroke-width="0.9" stroke-linejoin="round" />
<polygon points="318.9,776.1 321.2,777.2 321.2,811.2 318.9,810.1" fill="#fff" stroke="#333" stroke-width="0.9" stroke-linejoin="round" />
<polygon points="321.2,777.2 332.3,766.4 332.3,800.4 321.2,811.2" fill="#fff" stroke="#333" stroke-width="0.9" stroke-linejoin="round" />
<polygon points="318.9,776.1 329.9,765.3 332.3,766.4 321.2,777.2" fill="#fff" stroke="#333" stroke-width="0.9" stroke-linejoin="round" />
<polygon points="347,748.5 349.4,749.7 349.4,783.7 347,782.5" fill="#fff" stroke="#333" stroke-width="0.9" stroke-linejoin="round" />
<polygon points="349.4,749.7 360.4,738.9 360.4,772.9 349.4,783.7" fill="#fff" stroke="#333" stroke-width="0.9" stroke-linejoin="round" />
<polygon points="347,748.5 358,737.8 360.4,738.9 349.4,749.7" fill="#fff" stroke="#333" stroke-width="0.9" stroke-linejoin="round" />
<polygon points="375.4,720.7 377.8,721.9 377.8,755.9 375.4,754.7" fill="#fff" stroke="#333" stroke-width="0.9" stroke-linejoin="round" />
<polygon points="377.8,721.9 388.8,711.1 388.8,745.1 377.8,755.9" fill="#fff" stroke="#333" stroke-width="0.9" stroke-linejoin="round" />
<polygon points="375.4,720.7 386.5,709.9 388.8,711.1 377.8,721.9" fill="#fff" stroke="#333" stroke-width="0.9" stroke-linejoin="round" />
<polygon points="311.1,834.6 315.9,836.9 315.9,874.9 311.1,872.6" fill="#fff" stroke="#333" stroke-width="0.9" stroke-linejoin="round" />
<polygon points="315.9,836.9 479.8,676.5 479.8,714.5 315.9,874.9" fill="#fff" stroke="#333" stroke-width="0.9" stroke-linejoin="round" />
<polygon points="311.1,834.6 475.1,674.3 479.8,676.5 315.9,836.9" fill="#fff" stroke="#333" stroke-width="0.9" stroke-linejoin="round" />
<polygon points="224.5,793.4 315.9,836.9 315.9,874.9 224.5,831.4" fill="#fff" stroke="#333" stroke-width="0.9" stroke-linejoin="round" />
<polygon points="315.9,836.9 319.2,833.6 319.2,871.6 315.9,874.9" fill="#fff" stroke="#333" stroke-width="0.9" stroke-linejoin="round" />
<polygon points="224.5,793.4 227.8,790.1 319.2,833.6 315.9,836.9" fill="#fff" stroke="#333" stroke-width="0.9" stroke-linejoin="round" />
<polygon points="576.7,700.6 579.9,702.1 579.9,738.1 576.7,736.6" fill="#fff" stroke="#333" stroke-width="0.9" stroke-linejoin="round" />
<polygon points="579.9,702.1 595.9,686.4 595.9,722.4 579.9,738.1" fill="#fff" stroke="#333" stroke-width="0.9" stroke-linejoin="round" />
<polygon points="576.7,700.6 592.8,684.9 595.9,686.4 579.9,702.1" fill="#fff" stroke="#333" stroke-width="0.9" stroke-linejoin="round" />
<polygon points="599.1,728 629.8,742.6 629.8,754.6 599.1,740" fill="#fff" stroke="#333" stroke-width="0.9" stroke-linejoin="round" />
<polygon points="629.8,742.6 635.3,737.2 635.3,749.2 629.8,754.6" fill="#fff" stroke="#333" stroke-width="0.9" stroke-linejoin="round" />
<polygon points="599.1,728 604.6,722.5 635.3,737.2 629.8,742.6" fill="#fff" stroke="#333" stroke-width="0.9" stroke-linejoin="round" />
<polygon points="663.3,708.2 679.1,715.7 679.1,748.7 663.3,741.2" fill="#fff" stroke="#555" stroke-width="0.8" stroke-linejoin="round" />
<polygon points="679.1,715.7 681,713.9 681,746.9 679.1,748.7" fill="#fff" stroke="#555" stroke-width="0.8" stroke-linejoin="round" />
<polygon points="663.3,708.2 665.3,706.4 681,713.9 679.1,715.7" fill="#fff" stroke="#555" stroke-width="0.8" stroke-linejoin="round" />
<polyline points="663.3,741.2 663.3,708.2 679.1,715.7 679.1,748.7 663.3,741.2" fill="none" stroke="#333" stroke-width="1.7" stroke-linejoin="round" />
<polygon points="554.2,724.3 568,730.9 568,766.9 554.2,760.3" fill="#fff" stroke="#333" stroke-width="0.9" stroke-linejoin="round" />
<polygon points="568,730.9 577.9,721.2 577.9,757.2 568,766.9" fill="#fff" stroke="#333" stroke-width="0.9" stroke-linejoin="round" />
<polygon points="554.2,724.3 564.1,714.6 577.9,721.2 568,730.9" fill="#fff" stroke="#333" stroke-width="0.9" stroke-linejoin="round" />
<polygon points="652.3,719 668,726.5 668,759.5 652.3,752" fill="#fff" stroke="#555" stroke-width="0.8" stroke-linejoin="round" />
<polygon points="668,726.5 670,724.6 670,757.6 668,759.5" fill="#fff" stroke="#555" stroke-width="0.8" stroke-linejoin="round" />
<polygon points="652.3,719 654.2,717.1 670,724.6 668,726.5" fill="#fff" stroke="#555" stroke-width="0.8" stroke-linejoin="round" />
<polyline points="652.3,752 652.3,719 668,726.5 668,759.5 652.3,752" fill="none" stroke="#333" stroke-width="1.7" stroke-linejoin="round" />
<polygon points="641.2,729.8 657,737.3 657,770.3 641.2,762.8" fill="#fff" stroke="#555" stroke-width="0.8" stroke-linejoin="round" />
<polygon points="657,737.3 658.9,735.5 658.9,768.5 657,770.3" fill="#fff" stroke="#555" stroke-width="0.8" stroke-linejoin="round" />
<polygon points="641.2,729.8 643.2,728 658.9,735.5 657,737.3" fill="#fff" stroke="#555" stroke-width="0.8" stroke-linejoin="round" />
<polyline points="641.2,762.8 641.2,729.8 657,737.3 657,770.3 641.2,762.8" fill="none" stroke="#333" stroke-width="1.7" stroke-linejoin="round" />
<polygon points="630.2,740.6 646,748.1 646,781.1 630.2,773.6" fill="#fff" stroke="#555" stroke-width="0.8" stroke-linejoin="round" />
<polygon points="646,748.1 647.9,746.2 647.9,779.2 646,781.1" fill="#fff" stroke="#555" stroke-width="0.8" stroke-linejoin="round" />
<polygon points="630.2,740.6 632.1,738.8 647.9,746.2 646,748.1" fill="#fff" stroke="#555" stroke-width="0.8" stroke-linejoin="round" />
<polyline points="630.2,773.6 630.2,740.6 646,748.1 646,781.1 630.2,773.6" fill="none" stroke="#333" stroke-width="1.7" stroke-linejoin="round" />
<polygon points="552,753.4 580.8,767.1 580.8,799.1 552,785.4" fill="#fff" stroke="#333" stroke-width="0.9" stroke-linejoin="round" />
<polygon points="580.8,767.1 581.9,766 581.9,798 580.8,799.1" fill="#fff" stroke="#333" stroke-width="0.9" stroke-linejoin="round" />
<polygon points="552,753.4 553.1,752.3 581.9,766 580.8,767.1" fill="#fff" stroke="#333" stroke-width="0.9" stroke-linejoin="round" />
<polygon points="618.9,747.5 632.7,754.1 632.7,794.1 618.9,787.5" fill="#fff" stroke="#333" stroke-width="0.9" stroke-linejoin="round" />
<polygon points="632.7,754.1 642.7,744.4 642.7,784.4 632.7,794.1" fill="#fff" stroke="#333" stroke-width="0.9" stroke-linejoin="round" />
<polygon points="618.9,747.5 628.9,737.8 642.7,744.4 632.7,754.1" fill="#fff" stroke="#333" stroke-width="0.9" stroke-linejoin="round" />
<polygon points="609.5,760.9 625.3,768.4 625.3,801.4 609.5,793.9" fill="#fff" stroke="#555" stroke-width="0.8" stroke-linejoin="round" />
<polygon points="625.3,768.4 627.2,766.5 627.2,799.5 625.3,801.4" fill="#fff" stroke="#555" stroke-width="0.8" stroke-linejoin="round" />
<polygon points="609.5,760.9 611.4,759 627.2,766.5 625.3,768.4" fill="#fff" stroke="#555" stroke-width="0.8" stroke-linejoin="round" />
<polyline points="609.5,793.9 609.5,760.9 625.3,768.4 625.3,801.4 609.5,793.9" fill="none" stroke="#333" stroke-width="1.7" stroke-linejoin="round" />
<polygon points="200,831.1 203.1,832.6 203.1,862.6 200,861.1" fill="#fff" stroke="#333" stroke-width="0.9" stroke-linejoin="round" />
<polygon points="203.1,832.6 219.1,816.9 219.1,846.9 203.1,862.6" fill="#fff" stroke="#333" stroke-width="0.9" stroke-linejoin="round" />
<polygon points="200,831.1 216,815.4 219.1,816.9 203.1,832.6" fill="#fff" stroke="#333" stroke-width="0.9" stroke-linejoin="round" />
<polygon points="599,771.1 614.8,778.6 614.8,811.6 599,804.1" fill="#fff" stroke="#555" stroke-width="0.8" stroke-linejoin="round" />
<polygon points="614.8,778.6 616.7,776.8 616.7,809.8 614.8,811.6" fill="#fff" stroke="#555" stroke-width="0.8" stroke-linejoin="round" />
<polygon points="599,771.1 601,769.3 616.7,776.8 614.8,778.6" fill="#fff" stroke="#555" stroke-width="0.8" stroke-linejoin="round" />
<polyline points="599,804.1 599,771.1 614.8,778.6 614.8,811.6 599,804.1" fill="none" stroke="#333" stroke-width="1.7" stroke-linejoin="round" />
<polygon points="658.9,764.5 686.9,777.9 686.9,809.9 658.9,796.5" fill="#fff" stroke="#333" stroke-width="0.9" stroke-linejoin="round" />
<polygon points="686.9,777.9 688.6,776.2 688.6,808.2 686.9,809.9" fill="#fff" stroke="#333" stroke-width="0.9" stroke-linejoin="round" />
<polygon points="658.9,764.5 660.6,762.9 688.6,776.2 686.9,777.9" fill="#fff" stroke="#333" stroke-width="0.9" stroke-linejoin="round" />
<polygon points="588.5,781.4 604.3,788.9 604.3,821.9 588.5,814.4" fill="#fff" stroke="#555" stroke-width="0.8" stroke-linejoin="round" />
<polygon points="604.3,788.9 606.2,787 606.2,820 604.3,821.9" fill="#fff" stroke="#555" stroke-width="0.8" stroke-linejoin="round" />
<polygon points="588.5,781.4 590.5,779.5 606.2,787 604.3,788.9" fill="#fff" stroke="#555" stroke-width="0.8" stroke-linejoin="round" />
<polyline points="588.5,814.4 588.5,781.4 604.3,788.9 604.3,821.9 588.5,814.4" fill="none" stroke="#333" stroke-width="1.7" stroke-linejoin="round" />
<polygon points="473.5,828.8 513.7,847.9 513.7,865.9 473.5,846.8" fill="#fff" stroke="#333" stroke-width="1.0" stroke-linejoin="round" />
<polygon points="513.7,847.9 557.3,805.2 557.3,823.2 513.7,865.9" fill="#fff" stroke="#333" stroke-width="1.0" stroke-linejoin="round" />
<polygon points="473.5,828.8 517.1,786.1 557.3,805.2 513.7,847.9" fill="#fff" stroke="#333" stroke-width="1.0" stroke-linejoin="round" />
<polygon points="491.2,822.3 518.8,795.3 542.8,806.8 515.2,833.8" fill="#fff" stroke="#333" stroke-width="1.0" stroke-linejoin="round" />
<polyline points="491.2,822.3 491.2,832.3 518.8,805.3 542.8,816.8" fill="none" stroke="#444" stroke-width="0.8" stroke-linejoin="round" />
<line x1="518.8" y1="795.3" x2="518.8" y2="805.3" stroke="#444" stroke-width="0.7" />
<polygon points="501.4,825.2 520.2,806.8 527.3,810.2 508.5,828.5" fill="#fff" stroke="#444" stroke-width="0.7" stroke-linejoin="round" />
<polygon points="570.9,794.5 584.7,801.1 584.7,841.1 570.9,834.5" fill="#fff" stroke="#333" stroke-width="0.9" stroke-linejoin="round" />
<polygon points="584.7,801.1 594.6,791.4 594.6,831.4 584.7,841.1" fill="#fff" stroke="#333" stroke-width="0.9" stroke-linejoin="round" />
<polygon points="570.9,794.5 580.8,784.8 594.6,791.4 584.7,801.1" fill="#fff" stroke="#333" stroke-width="0.9" stroke-linejoin="round" />
<polygon points="565.9,803.5 581.7,811 581.7,844 565.9,836.5" fill="#fff" stroke="#555" stroke-width="0.8" stroke-linejoin="round" />
<polygon points="581.7,811 583.6,809.2 583.6,842.2 581.7,844" fill="#fff" stroke="#555" stroke-width="0.8" stroke-linejoin="round" />
<polygon points="565.9,803.5 567.8,801.7 583.6,809.2 581.7,811" fill="#fff" stroke="#555" stroke-width="0.8" stroke-linejoin="round" />
<polyline points="565.9,836.5 565.9,803.5 581.7,811 581.7,844 565.9,836.5" fill="none" stroke="#333" stroke-width="1.7" stroke-linejoin="round" />
<polygon points="554.9,814.4 570.6,821.9 570.6,854.9 554.9,847.4" fill="#fff" stroke="#555" stroke-width="0.8" stroke-linejoin="round" />
<polygon points="570.6,821.9 572.6,820 572.6,853 570.6,854.9" fill="#fff" stroke="#555" stroke-width="0.8" stroke-linejoin="round" />
<polygon points="554.9,814.4 556.8,812.5 572.6,820 570.6,821.9" fill="#fff" stroke="#555" stroke-width="0.8" stroke-linejoin="round" />
<polyline points="554.9,847.4 554.9,814.4 570.6,821.9 570.6,854.9 554.9,847.4" fill="none" stroke="#333" stroke-width="1.7" stroke-linejoin="round" />
<polygon points="475.8,845.9 516,865 516,875 475.8,855.9" fill="#fff" stroke="#333" stroke-width="0.9" stroke-linejoin="round" />
<polygon points="516,865 527.1,854.2 527.1,864.2 516,875" fill="#fff" stroke="#333" stroke-width="0.9" stroke-linejoin="round" />
<polygon points="475.8,845.9 486.9,835.1 527.1,854.2 516,865" fill="#fff" stroke="#333" stroke-width="0.9" stroke-linejoin="round" />
<polygon points="443.2,828.9 454.7,834.3 454.7,874.3 443.2,868.9" fill="#fff" stroke="#333" stroke-width="0.9" stroke-linejoin="round" />
<polygon points="454.7,834.3 464.6,824.6 464.6,864.6 454.7,874.3" fill="#fff" stroke="#333" stroke-width="0.9" stroke-linejoin="round" />
<polygon points="443.2,828.9 453.2,819.2 464.6,824.6 454.7,834.3" fill="#fff" stroke="#333" stroke-width="0.9" stroke-linejoin="round" />
<polygon points="278.3,870.8 281.4,872.3 281.4,902.3 278.3,900.8" fill="#fff" stroke="#333" stroke-width="0.9" stroke-linejoin="round" />
<polygon points="281.4,872.3 299.4,854.7 299.4,884.7 281.4,902.3" fill="#fff" stroke="#333" stroke-width="0.9" stroke-linejoin="round" />
<polygon points="278.3,870.8 296.2,853.2 299.4,854.7 281.4,872.3" fill="#fff" stroke="#333" stroke-width="0.9" stroke-linejoin="round" />
<polygon points="543.8,825.1 559.6,832.6 559.6,865.6 543.8,858.1" fill="#fff" stroke="#555" stroke-width="0.8" stroke-linejoin="round" />
<polygon points="559.6,832.6 561.5,830.8 561.5,863.8 559.6,865.6" fill="#fff" stroke="#555" stroke-width="0.8" stroke-linejoin="round" />
<polygon points="543.8,825.1 545.8,823.3 561.5,830.8 559.6,832.6" fill="#fff" stroke="#555" stroke-width="0.8" stroke-linejoin="round" />
<polyline points="543.8,858.1 543.8,825.1 559.6,832.6 559.6,865.6 543.8,858.1" fill="none" stroke="#333" stroke-width="1.7" stroke-linejoin="round" />
<polygon points="602.2,819.4 631.4,833.3 631.4,865.3 602.2,851.4" fill="#fff" stroke="#333" stroke-width="0.9" stroke-linejoin="round" />
<polygon points="631.4,833.3 633,831.7 633,863.7 631.4,865.3" fill="#fff" stroke="#333" stroke-width="0.9" stroke-linejoin="round" />
<polygon points="602.2,819.4 603.9,817.8 633,831.7 631.4,833.3" fill="#fff" stroke="#333" stroke-width="0.9" stroke-linejoin="round" />
<polygon points="532.8,836 548.5,843.5 548.5,876.5 532.8,869" fill="#fff" stroke="#555" stroke-width="0.8" stroke-linejoin="round" />
<polygon points="548.5,843.5 550.5,841.6 550.5,874.6 548.5,876.5" fill="#fff" stroke="#555" stroke-width="0.8" stroke-linejoin="round" />
<polygon points="532.8,836 534.7,834.1 550.5,841.6 548.5,843.5" fill="#fff" stroke="#555" stroke-width="0.8" stroke-linejoin="round" />
<polyline points="532.8,869 532.8,836 548.5,843.5 548.5,876.5 532.8,869" fill="none" stroke="#333" stroke-width="1.7" stroke-linejoin="round" />
<polygon points="504.7,859.3 518.5,865.9 518.5,905.9 504.7,899.3" fill="#fff" stroke="#333" stroke-width="0.9" stroke-linejoin="round" />
<polygon points="518.5,865.9 528.4,856.2 528.4,896.2 518.5,905.9" fill="#fff" stroke="#333" stroke-width="0.9" stroke-linejoin="round" />
<polygon points="504.7,859.3 514.6,849.6 528.4,856.2 518.5,865.9" fill="#fff" stroke="#333" stroke-width="0.9" stroke-linejoin="round" />
<polygon points="442.9,865.6 469.7,878.4 469.7,916.4 442.9,903.6" fill="#fff" stroke="#333" stroke-width="0.9" stroke-linejoin="round" />
<polygon points="469.7,878.4 472.4,875.7 472.4,913.7 469.7,916.4" fill="#fff" stroke="#333" stroke-width="0.9" stroke-linejoin="round" />
<polygon points="442.9,865.6 445.6,862.9 472.4,875.7 469.7,878.4" fill="#fff" stroke="#333" stroke-width="0.9" stroke-linejoin="round" />
<polygon points="397.1,876.3 411.3,883.1 411.3,923.1 397.1,916.3" fill="#fff" stroke="#333" stroke-width="0.9" stroke-linejoin="round" />
<polygon points="411.3,883.1 419.3,875.3 419.3,915.3 411.3,923.1" fill="#fff" stroke="#333" stroke-width="0.9" stroke-linejoin="round" />
<polygon points="397.1,876.3 405.1,868.5 419.3,875.3 411.3,883.1" fill="#fff" stroke="#333" stroke-width="0.9" stroke-linejoin="round" />
<polygon points="498.8,869.2 514.6,876.7 514.6,909.7 498.8,902.2" fill="#fff" stroke="#555" stroke-width="0.8" stroke-linejoin="round" />
<polygon points="514.6,876.7 516.5,874.8 516.5,907.8 514.6,909.7" fill="#fff" stroke="#555" stroke-width="0.8" stroke-linejoin="round" />
<polygon points="498.8,869.2 500.8,867.3 516.5,874.8 514.6,876.7" fill="#fff" stroke="#555" stroke-width="0.8" stroke-linejoin="round" />
<polyline points="498.8,902.2 498.8,869.2 514.6,876.7 514.6,909.7 498.8,902.2" fill="none" stroke="#333" stroke-width="1.7" stroke-linejoin="round" />
<polygon points="425.8,910.4 439.5,916.9 439.5,922.9 425.8,916.4" fill="#fff" stroke="#333" stroke-width="0.9" stroke-linejoin="round" />
<polygon points="439.5,916.9 449.2,907.5 449.2,913.5 439.5,922.9" fill="#fff" stroke="#333" stroke-width="0.9" stroke-linejoin="round" />
<polygon points="425.8,910.4 435.4,900.9 449.2,907.5 439.5,916.9" fill="#fff" stroke="#333" stroke-width="0.9" stroke-linejoin="round" />
<polygon points="487.8,880 503.6,887.5 503.6,920.5 487.8,913" fill="#fff" stroke="#555" stroke-width="0.8" stroke-linejoin="round" />
<polygon points="503.6,887.5 505.5,885.6 505.5,918.6 503.6,920.5" fill="#fff" stroke="#555" stroke-width="0.8" stroke-linejoin="round" />
<polygon points="487.8,880 489.7,878.1 505.5,885.6 503.6,887.5" fill="#fff" stroke="#555" stroke-width="0.8" stroke-linejoin="round" />
<polyline points="487.8,913 487.8,880 503.6,887.5 503.6,920.5 487.8,913" fill="none" stroke="#333" stroke-width="1.7" stroke-linejoin="round" />
<polygon points="363.5,903.7 366.7,905.2 366.7,943.2 363.5,941.7" fill="#fff" stroke="#333" stroke-width="0.9" stroke-linejoin="round" />
<polygon points="366.7,905.2 382.4,889.8 382.4,927.8 366.7,943.2" fill="#fff" stroke="#333" stroke-width="0.9" stroke-linejoin="round" />
<polygon points="363.5,903.7 379.3,888.3 382.4,889.8 366.7,905.2" fill="#fff" stroke="#333" stroke-width="0.9" stroke-linejoin="round" />
<line x1="366.7" y1="939.4" x2="382.4" y2="924" stroke="#333" stroke-width="1.0" />
<line x1="366.7" y1="935.6" x2="382.4" y2="920.2" stroke="#333" stroke-width="1.0" />
<line x1="366.7" y1="931.8" x2="382.4" y2="916.4" stroke="#333" stroke-width="1.0" />
<line x1="366.7" y1="928" x2="382.4" y2="912.6" stroke="#333" stroke-width="1.0" />
<line x1="366.7" y1="924.2" x2="382.4" y2="908.8" stroke="#333" stroke-width="1.0" />
<line x1="366.7" y1="920.4" x2="382.4" y2="905" stroke="#333" stroke-width="1.0" />
<line x1="366.7" y1="916.6" x2="382.4" y2="901.2" stroke="#333" stroke-width="1.0" />
<line x1="366.7" y1="912.8" x2="382.4" y2="897.4" stroke="#333" stroke-width="1.0" />
<line x1="366.7" y1="909" x2="382.4" y2="893.6" stroke="#333" stroke-width="1.0" />
<polygon points="546.5,874 575.6,887.8 575.6,919.8 546.5,906" fill="#fff" stroke="#333" stroke-width="0.9" stroke-linejoin="round" />
<polygon points="575.6,887.8 577.3,886.2 577.3,918.2 575.6,919.8" fill="#fff" stroke="#333" stroke-width="0.9" stroke-linejoin="round" />
<polygon points="546.5,874 548.1,872.4 577.3,886.2 575.6,887.8" fill="#fff" stroke="#333" stroke-width="0.9" stroke-linejoin="round" />
<polygon points="476.8,890.8 492.5,898.3 492.5,931.3 476.8,923.8" fill="#fff" stroke="#555" stroke-width="0.8" stroke-linejoin="round" />
<polygon points="492.5,898.3 494.4,896.4 494.4,929.4 492.5,931.3" fill="#fff" stroke="#555" stroke-width="0.8" stroke-linejoin="round" />
<polygon points="476.8,890.8 478.7,888.9 494.4,896.4 492.5,898.3" fill="#fff" stroke="#555" stroke-width="0.8" stroke-linejoin="round" />
<polyline points="476.8,923.8 476.8,890.8 492.5,898.3 492.5,931.3 476.8,923.8" fill="none" stroke="#333" stroke-width="1.7" stroke-linejoin="round" />
<polygon points="385.9,937.6 412.3,950.1 412.3,958.1 385.9,945.6" fill="#fff" stroke="#333" stroke-width="0.9" stroke-linejoin="round" />
<polygon points="412.3,950.1 422.8,939.9 422.8,947.9 412.3,958.1" fill="#fff" stroke="#333" stroke-width="0.9" stroke-linejoin="round" />
<polygon points="385.9,937.6 396.4,927.3 422.8,939.9 412.3,950.1" fill="#fff" stroke="#333" stroke-width="0.9" stroke-linejoin="round" />
<polygon points="458.9,904.1 472.6,910.7 472.6,950.7 458.9,944.1" fill="#fff" stroke="#333" stroke-width="0.9" stroke-linejoin="round" />
<polygon points="472.6,910.7 482.6,901 482.6,941 472.6,950.7" fill="#fff" stroke="#333" stroke-width="0.9" stroke-linejoin="round" />
<polygon points="458.9,904.1 468.8,894.4 482.6,901 472.6,910.7" fill="#fff" stroke="#333" stroke-width="0.9" stroke-linejoin="round" />
<polygon points="385.4,946.1 411,958.3 411,962.3 385.4,950.1" fill="#fff" stroke="#333" stroke-width="0.9" stroke-linejoin="round" />
<polygon points="411,958.3 414.3,955.1 414.3,959.1 411,962.3" fill="#fff" stroke="#333" stroke-width="0.9" stroke-linejoin="round" />
<polygon points="385.4,946.1 388.7,942.9 414.3,955.1 411,958.3" fill="#fff" stroke="#333" stroke-width="0.9" stroke-linejoin="round" />
<polygon points="453.8,913.2 469.6,920.7 469.6,953.7 453.8,946.2" fill="#fff" stroke="#555" stroke-width="0.8" stroke-linejoin="round" />
<polygon points="469.6,920.7 471.5,918.8 471.5,951.8 469.6,953.7" fill="#fff" stroke="#555" stroke-width="0.8" stroke-linejoin="round" />
<polygon points="453.8,913.2 455.8,911.3 471.5,918.8 469.6,920.7" fill="#fff" stroke="#555" stroke-width="0.8" stroke-linejoin="round" />
<polyline points="453.8,946.2 453.8,913.2 469.6,920.7 469.6,953.7 453.8,946.2" fill="none" stroke="#333" stroke-width="1.7" stroke-linejoin="round" />
<polygon points="442.8,924 458.6,931.5 458.6,964.5 442.8,957" fill="#fff" stroke="#555" stroke-width="0.8" stroke-linejoin="round" />
<polygon points="458.6,931.5 460.5,929.6 460.5,962.6 458.6,964.5" fill="#fff" stroke="#555" stroke-width="0.8" stroke-linejoin="round" />
<polygon points="442.8,924 444.7,922.1 460.5,929.6 458.6,931.5" fill="#fff" stroke="#555" stroke-width="0.8" stroke-linejoin="round" />
<polyline points="442.8,957 442.8,924 458.6,931.5 458.6,964.5 442.8,957" fill="none" stroke="#333" stroke-width="1.7" stroke-linejoin="round" />
<polygon points="432,934.5 447.8,942 447.8,975 432,967.5" fill="#fff" stroke="#555" stroke-width="0.8" stroke-linejoin="round" />
<polygon points="447.8,942 449.7,940.1 449.7,973.1 447.8,975" fill="#fff" stroke="#555" stroke-width="0.8" stroke-linejoin="round" />
<polygon points="432,934.5 434,932.6 449.7,940.1 447.8,942" fill="#fff" stroke="#555" stroke-width="0.8" stroke-linejoin="round" />
<polyline points="432,967.5 432,934.5 447.8,942 447.8,975 432,967.5" fill="none" stroke="#333" stroke-width="1.7" stroke-linejoin="round" />
<polygon points="495.2,923 522.8,936.2 522.8,976.2 495.2,963" fill="#fff" stroke="#333" stroke-width="0.9" stroke-linejoin="round" />
<polygon points="522.8,936.2 525,934 525,974 522.8,976.2" fill="#fff" stroke="#333" stroke-width="0.9" stroke-linejoin="round" />
<polygon points="495.2,923 497.4,920.9 525,934 522.8,936.2" fill="#fff" stroke="#333" stroke-width="0.9" stroke-linejoin="round" />
<line x1="495.2" y1="959.4" x2="522.8" y2="972.5" stroke="#333" stroke-width="1.0" />
<line x1="495.2" y1="955.8" x2="522.8" y2="968.9" stroke="#333" stroke-width="1.0" />
<line x1="495.2" y1="952.1" x2="522.8" y2="965.2" stroke="#333" stroke-width="1.0" />
<line x1="495.2" y1="948.5" x2="522.8" y2="961.6" stroke="#333" stroke-width="1.0" />
<line x1="495.2" y1="944.8" x2="522.8" y2="958" stroke="#333" stroke-width="1.0" />
<line x1="495.2" y1="941.2" x2="522.8" y2="954.3" stroke="#333" stroke-width="1.0" />
<line x1="495.2" y1="937.6" x2="522.8" y2="950.7" stroke="#333" stroke-width="1.0" />
<line x1="495.2" y1="933.9" x2="522.8" y2="947.1" stroke="#333" stroke-width="1.0" />
<line x1="495.2" y1="930.3" x2="522.8" y2="943.4" stroke="#333" stroke-width="1.0" />
<line x1="495.2" y1="926.7" x2="522.8" y2="939.8" stroke="#333" stroke-width="1.0" />
<polygon points="440.8,654.8 454.2,661.2 454.2,666.2 440.8,659.8" fill="#fff" stroke="#333" stroke-width="0.9" stroke-linejoin="round" />
<polygon points="454.2,661.2 468.8,646.9 468.8,651.9 454.2,666.2" fill="#fff" stroke="#333" stroke-width="0.9" stroke-linejoin="round" />
<polygon points="440.8,654.8 455.5,640.5 468.8,646.9 454.2,661.2" fill="#fff" stroke="#333" stroke-width="0.9" stroke-linejoin="round" />
<polygon points="470,668.7 482.6,674.7 482.6,679.7 470,673.7" fill="#fff" stroke="#333" stroke-width="0.9" stroke-linejoin="round" />
<polygon points="482.6,674.7 497.2,660.4 497.2,665.4 482.6,679.7" fill="#fff" stroke="#333" stroke-width="0.9" stroke-linejoin="round" />
<polygon points="470,668.7 484.6,654.4 497.2,660.4 482.6,674.7" fill="#fff" stroke="#333" stroke-width="0.9" stroke-linejoin="round" />
<ellipse cx="450.7" cy="669.4" rx="2.2" ry="3" fill="#fff" stroke="#333" stroke-width="0.8"/>
<ellipse cx="479.5" cy="683.0" rx="2.2" ry="3" fill="#fff" stroke="#333" stroke-width="0.8"/>
<ellipse cx="459.0" cy="661.3" rx="2.2" ry="3" fill="#fff" stroke="#333" stroke-width="0.8"/>
<ellipse cx="487.8" cy="675.0" rx="2.2" ry="3" fill="#fff" stroke="#333" stroke-width="0.8"/>
<ellipse cx="467.3" cy="653.2" rx="2.2" ry="3" fill="#fff" stroke="#333" stroke-width="0.8"/>
<ellipse cx="496.0" cy="666.9" rx="2.2" ry="3" fill="#fff" stroke="#333" stroke-width="0.8"/>
<polygon points="496,660.1 498.3,661.2 498.3,695.2 496,694.1" fill="#fff" stroke="#333" stroke-width="0.9" stroke-linejoin="round" />
<polygon points="498.3,661.2 516,644 516,678 498.3,695.2" fill="#fff" stroke="#333" stroke-width="0.9" stroke-linejoin="round" />
<polygon points="496,660.1 513.6,642.8 516,644 498.3,661.2" fill="#fff" stroke="#333" stroke-width="0.9" stroke-linejoin="round" />
<polygon points="639.2,821 639.2,815.4 644,812.5 644,818.2" fill="#fff" stroke="#333" stroke-width="0.9" stroke-linejoin="round" />
<polygon points="639.2,821 644,818.2 649.7,820.1 645,823.9" fill="#fff" stroke="#333" stroke-width="0.9" stroke-linejoin="round" />
<line x1="640.2" y1="822" x2="640.2" y2="825.8" stroke="#333" stroke-width="0.9" />
<line x1="645" y1="823.9" x2="645" y2="827.7" stroke="#333" stroke-width="0.9" />
<line x1="648.8" y1="821" x2="648.8" y2="824.9" stroke="#444" stroke-width="0.8" />
<polygon points="649.2,816 649.2,810.4 654,807.5 654,813.2" fill="#fff" stroke="#333" stroke-width="0.9" stroke-linejoin="round" />
<polygon points="649.2,816 654,813.2 659.7,815.1 655,818.9" fill="#fff" stroke="#333" stroke-width="0.9" stroke-linejoin="round" />
<line x1="650.2" y1="817" x2="650.2" y2="820.8" stroke="#333" stroke-width="0.9" />
<line x1="655" y1="818.9" x2="655" y2="822.7" stroke="#333" stroke-width="0.9" />
<line x1="658.8" y1="816" x2="658.8" y2="819.9" stroke="#444" stroke-width="0.8" />
<polygon points="643.2,829 643.2,823.4 648,820.5 648,826.2" fill="#fff" stroke="#333" stroke-width="0.9" stroke-linejoin="round" />
<polygon points="643.2,829 648,826.2 653.7,828.1 649,831.9" fill="#fff" stroke="#333" stroke-width="0.9" stroke-linejoin="round" />
<line x1="644.2" y1="830" x2="644.2" y2="833.8" stroke="#333" stroke-width="0.9" />
<line x1="649" y1="831.9" x2="649" y2="835.7" stroke="#333" stroke-width="0.9" />
<line x1="652.8" y1="829" x2="652.8" y2="832.9" stroke="#444" stroke-width="0.8" />
<polygon points="653.2,824 653.2,818.4 658,815.5 658,821.2" fill="#fff" stroke="#333" stroke-width="0.9" stroke-linejoin="round" />
<polygon points="653.2,824 658,821.2 663.7,823.1 659,826.9" fill="#fff" stroke="#333" stroke-width="0.9" stroke-linejoin="round" />
<line x1="654.2" y1="825" x2="654.2" y2="828.8" stroke="#333" stroke-width="0.9" />
<line x1="659" y1="826.9" x2="659" y2="830.7" stroke="#333" stroke-width="0.9" />
<line x1="662.8" y1="824" x2="662.8" y2="827.9" stroke="#444" stroke-width="0.8" />
<polygon points="585.2,875 585.2,869.4 590,866.5 590,872.2" fill="#fff" stroke="#333" stroke-width="0.9" stroke-linejoin="round" />
<polygon points="585.2,875 590,872.2 595.7,874.1 591,877.9" fill="#fff" stroke="#333" stroke-width="0.9" stroke-linejoin="round" />
<line x1="586.2" y1="876" x2="586.2" y2="879.8" stroke="#333" stroke-width="0.9" />
<line x1="591" y1="877.9" x2="591" y2="881.7" stroke="#333" stroke-width="0.9" />
<line x1="594.8" y1="875" x2="594.8" y2="878.9" stroke="#444" stroke-width="0.8" />
<polygon points="595.2,870 595.2,864.4 600,861.5 600,867.2" fill="#fff" stroke="#333" stroke-width="0.9" stroke-linejoin="round" />
<polygon points="595.2,870 600,867.2 605.7,869.1 601,872.9" fill="#fff" stroke="#333" stroke-width="0.9" stroke-linejoin="round" />
<line x1="596.2" y1="871" x2="596.2" y2="874.8" stroke="#333" stroke-width="0.9" />
<line x1="601" y1="872.9" x2="601" y2="876.7" stroke="#333" stroke-width="0.9" />
<line x1="604.8" y1="870" x2="604.8" y2="873.9" stroke="#444" stroke-width="0.8" />
<polygon points="589.2,883 589.2,877.4 594,874.5 594,880.2" fill="#fff" stroke="#333" stroke-width="0.9" stroke-linejoin="round" />
<polygon points="589.2,883 594,880.2 599.7,882.1 595,885.9" fill="#fff" stroke="#333" stroke-width="0.9" stroke-linejoin="round" />
<line x1="590.2" y1="884" x2="590.2" y2="887.8" stroke="#333" stroke-width="0.9" />
<line x1="595" y1="885.9" x2="595" y2="889.7" stroke="#333" stroke-width="0.9" />
<line x1="598.8" y1="883" x2="598.8" y2="886.9" stroke="#444" stroke-width="0.8" />
<polygon points="599.2,878 599.2,872.4 604,869.5 604,875.2" fill="#fff" stroke="#333" stroke-width="0.9" stroke-linejoin="round" />
<polygon points="599.2,878 604,875.2 609.7,877.1 605,880.9" fill="#fff" stroke="#333" stroke-width="0.9" stroke-linejoin="round" />
<line x1="600.2" y1="879" x2="600.2" y2="882.8" stroke="#333" stroke-width="0.9" />
<line x1="605" y1="880.9" x2="605" y2="884.7" stroke="#333" stroke-width="0.9" />
<line x1="608.8" y1="878" x2="608.8" y2="881.9" stroke="#444" stroke-width="0.8" />
<polygon points="522.2,932 522.2,926.4 527,923.5 527,929.2" fill="#fff" stroke="#333" stroke-width="0.9" stroke-linejoin="round" />
<polygon points="522.2,932 527,929.2 532.7,931.1 528,934.9" fill="#fff" stroke="#333" stroke-width="0.9" stroke-linejoin="round" />
<line x1="523.2" y1="933" x2="523.2" y2="936.8" stroke="#333" stroke-width="0.9" />
<line x1="528" y1="934.9" x2="528" y2="938.7" stroke="#333" stroke-width="0.9" />
<line x1="531.8" y1="932" x2="531.8" y2="935.9" stroke="#444" stroke-width="0.8" />
<polygon points="532.2,927 532.2,921.4 537,918.5 537,924.2" fill="#fff" stroke="#333" stroke-width="0.9" stroke-linejoin="round" />
<polygon points="532.2,927 537,924.2 542.7,926.1 538,929.9" fill="#fff" stroke="#333" stroke-width="0.9" stroke-linejoin="round" />
<line x1="533.2" y1="928" x2="533.2" y2="931.8" stroke="#333" stroke-width="0.9" />
<line x1="538" y1="929.9" x2="538" y2="933.7" stroke="#333" stroke-width="0.9" />
<line x1="541.8" y1="927" x2="541.8" y2="930.9" stroke="#444" stroke-width="0.8" />
<polygon points="526.2,940 526.2,934.4 531,931.5 531,937.2" fill="#fff" stroke="#333" stroke-width="0.9" stroke-linejoin="round" />
<polygon points="526.2,940 531,937.2 536.7,939.1 532,942.9" fill="#fff" stroke="#333" stroke-width="0.9" stroke-linejoin="round" />
<line x1="527.2" y1="941" x2="527.2" y2="944.8" stroke="#333" stroke-width="0.9" />
<line x1="532" y1="942.9" x2="532" y2="946.7" stroke="#333" stroke-width="0.9" />
<line x1="535.8" y1="940" x2="535.8" y2="943.9" stroke="#444" stroke-width="0.8" />
<polygon points="536.2,935 536.2,929.4 541,926.5 541,932.2" fill="#fff" stroke="#333" stroke-width="0.9" stroke-linejoin="round" />
<polygon points="536.2,935 541,932.2 546.7,934.1 542,937.9" fill="#fff" stroke="#333" stroke-width="0.9" stroke-linejoin="round" />
<line x1="537.2" y1="936" x2="537.2" y2="939.8" stroke="#333" stroke-width="0.9" />
<line x1="542" y1="937.9" x2="542" y2="941.7" stroke="#333" stroke-width="0.9" />
<line x1="545.8" y1="935" x2="545.8" y2="938.9" stroke="#444" stroke-width="0.8" />
<polygon points="419.2,908 419.2,902.4 424,899.5 424,905.2" fill="#fff" stroke="#333" stroke-width="0.9" stroke-linejoin="round" />
<polygon points="419.2,908 424,905.2 429.7,907.1 424.9,910.9" fill="#fff" stroke="#333" stroke-width="0.9" stroke-linejoin="round" />
<line x1="420.2" y1="909" x2="420.2" y2="912.8" stroke="#333" stroke-width="0.9" />
<line x1="424.9" y1="910.9" x2="424.9" y2="914.7" stroke="#333" stroke-width="0.9" />
<line x1="428.8" y1="908" x2="428.8" y2="911.9" stroke="#444" stroke-width="0.8" />
<polygon points="429.2,903 429.2,897.4 434,894.5 434,900.2" fill="#fff" stroke="#333" stroke-width="0.9" stroke-linejoin="round" />
<polygon points="429.2,903 434,900.2 439.7,902.1 434.9,905.9" fill="#fff" stroke="#333" stroke-width="0.9" stroke-linejoin="round" />
<line x1="430.2" y1="904" x2="430.2" y2="907.8" stroke="#333" stroke-width="0.9" />
<line x1="434.9" y1="905.9" x2="434.9" y2="909.7" stroke="#333" stroke-width="0.9" />
<line x1="438.8" y1="903" x2="438.8" y2="906.9" stroke="#444" stroke-width="0.8" />
<polygon points="423.2,916 423.2,910.4 428,907.5 428,913.2" fill="#fff" stroke="#333" stroke-width="0.9" stroke-linejoin="round" />
<polygon points="423.2,916 428,913.2 433.7,915.1 428.9,918.9" fill="#fff" stroke="#333" stroke-width="0.9" stroke-linejoin="round" />
<line x1="424.2" y1="917" x2="424.2" y2="920.8" stroke="#333" stroke-width="0.9" />
<line x1="428.9" y1="918.9" x2="428.9" y2="922.7" stroke="#333" stroke-width="0.9" />
<line x1="432.8" y1="916" x2="432.8" y2="919.9" stroke="#444" stroke-width="0.8" />
<polygon points="479.2,868 479.2,862.4 484,859.5 484,865.2" fill="#fff" stroke="#333" stroke-width="0.9" stroke-linejoin="round" />
<polygon points="479.2,868 484,865.2 489.7,867.1 484.9,870.9" fill="#fff" stroke="#333" stroke-width="0.9" stroke-linejoin="round" />
<line x1="480.2" y1="869" x2="480.2" y2="872.8" stroke="#333" stroke-width="0.9" />
<line x1="484.9" y1="870.9" x2="484.9" y2="874.7" stroke="#333" stroke-width="0.9" />
<line x1="488.8" y1="868" x2="488.8" y2="871.9" stroke="#444" stroke-width="0.8" />
<polygon points="489.2,863 489.2,857.4 494,854.5 494,860.2" fill="#fff" stroke="#333" stroke-width="0.9" stroke-linejoin="round" />
<polygon points="489.2,863 494,860.2 499.7,862.1 494.9,865.9" fill="#fff" stroke="#333" stroke-width="0.9" stroke-linejoin="round" />
<line x1="490.2" y1="864" x2="490.2" y2="867.8" stroke="#333" stroke-width="0.9" />
<line x1="494.9" y1="865.9" x2="494.9" y2="869.7" stroke="#333" stroke-width="0.9" />
<line x1="498.8" y1="863" x2="498.8" y2="866.9" stroke="#444" stroke-width="0.8" />
<polygon points="698,762 705,758 710,772 706,790 699,792 695,778" fill="#fff" stroke="#333" stroke-width="0.9" stroke-linejoin="round" />
<ellipse cx="465" cy="972" rx="4.5" ry="3" fill="#fff" stroke="#333" stroke-width="0.9"/>
<ellipse cx="474" cy="975" rx="4.5" ry="3" fill="#fff" stroke="#333" stroke-width="0.9"/>
<ellipse cx="492" cy="972" rx="4.5" ry="3" fill="#fff" stroke="#333" stroke-width="0.9"/>
<ellipse cx="480" cy="966" rx="4.5" ry="3" fill="#fff" stroke="#333" stroke-width="0.9"/>
<ellipse cx="604" cy="744" rx="2.2" ry="3.2" fill="#fff" stroke="#333" stroke-width="0.8"/>
<ellipse cx="611" cy="748" rx="2.2" ry="3.2" fill="#fff" stroke="#333" stroke-width="0.8"/>
<ellipse cx="618" cy="752" rx="2.2" ry="3.2" fill="#fff" stroke="#333" stroke-width="0.8"/>
<line x1="498.5" y1="575.6" x2="498.5" y2="992" stroke="#444" stroke-width="1.1" stroke-dasharray="15 13.70" stroke-dashoffset="0.00"/>
<polygon points="105,814 499,1001.5 495.9,989.6 122.4,811.9" fill="#fff" stroke="none" stroke-linejoin="round" />
<polygon points="499,1001.5 775,731.5 757.6,733.6 495.9,989.6" fill="#fff" stroke="none" stroke-linejoin="round" />
<polygon points="105,814 499,1001.5 499,1039.5 105,852" fill="#fff" stroke="#333" stroke-width="1.0" stroke-linejoin="round" />
<polygon points="499,1001.5 775,731.5 775,769.5 499,1039.5" fill="#fff" stroke="#333" stroke-width="1.0" stroke-linejoin="round" />
<polyline points="105,818 499,1005.5 775,735.5" fill="none" stroke="#444" stroke-width="0.9" stroke-linejoin="round" />
<polyline points="105,816 499,1003.5 775,733.5" fill="none" stroke="#777" stroke-width="0.6" stroke-linejoin="round" />
<polyline points="122.4,811.9 495.9,989.6 757.6,733.6" fill="none" stroke="#333" stroke-width="0.9" stroke-linejoin="round" />
<polyline points="124.6,809.7 495,985.9 754.4,732.1" fill="none" stroke="#666" stroke-width="0.6" stroke-linejoin="round" />
<polyline points="105,814 499,1001.5 775,731.5" fill="none" stroke="#222" stroke-width="1.2" stroke-linejoin="round" />
<line x1="499" y1="1001.5" x2="499" y2="1039.5" stroke="#333" stroke-width="1.0" />
<polygon points="116.8,825.6 127.5,830.7 127.5,860.7 116.8,855.6" fill="#fff" stroke="#555" stroke-width="0.8" stroke-linejoin="round" />
<polygon points="116.8,825.6 116.8,825.6 123.4,828.8 123.4,849.1 116.8,855.6" fill="#fff" stroke="#3a3a3a" stroke-width="1.0" stroke-linejoin="round" />
<line x1="116.8" y1="825.6" x2="116.8" y2="855.6" stroke="#2a2a2a" stroke-width="1.8" />
<polygon points="127.5,830.7 142.4,837.8 142.4,867.8 127.5,860.7" fill="#fff" stroke="#555" stroke-width="0.8" stroke-linejoin="round" />
<polygon points="127.5,830.7 127.5,830.7 134.1,833.8 134.1,854.2 127.5,860.7" fill="#fff" stroke="#3a3a3a" stroke-width="1.0" stroke-linejoin="round" />
<line x1="127.5" y1="830.7" x2="127.5" y2="860.7" stroke="#2a2a2a" stroke-width="1.8" />
<polygon points="142.4,837.8 158.6,845.5 158.6,875.5 142.4,867.8" fill="#fff" stroke="#555" stroke-width="0.8" stroke-linejoin="round" />
<polygon points="142.4,837.8 142.4,837.8 149.1,841 149.1,861.3 142.4,867.8" fill="#fff" stroke="#3a3a3a" stroke-width="1.0" stroke-linejoin="round" />
<line x1="142.4" y1="837.8" x2="142.4" y2="867.8" stroke="#2a2a2a" stroke-width="1.8" />
<polygon points="158.6,845.5 173.9,852.8 173.9,882.8 158.6,875.5" fill="#fff" stroke="#555" stroke-width="0.8" stroke-linejoin="round" />
<polygon points="158.6,845.5 158.6,845.5 165.2,848.7 165.2,869 158.6,875.5" fill="#fff" stroke="#3a3a3a" stroke-width="1.0" stroke-linejoin="round" />
<line x1="158.6" y1="845.5" x2="158.6" y2="875.5" stroke="#2a2a2a" stroke-width="1.8" />
<polygon points="173.9,852.8 183.8,857.5 183.8,887.5 173.9,882.8" fill="#fff" stroke="#555" stroke-width="0.8" stroke-linejoin="round" />
<polygon points="173.9,852.8 173.9,852.8 180.6,856 180.6,876.3 173.9,882.8" fill="#fff" stroke="#3a3a3a" stroke-width="1.0" stroke-linejoin="round" />
<line x1="173.9" y1="852.8" x2="173.9" y2="882.8" stroke="#2a2a2a" stroke-width="1.8" />
<polygon points="200,865.2 215.3,872.5 215.3,902.5 200,895.2" fill="#fff" stroke="#555" stroke-width="0.8" stroke-linejoin="round" />
<polygon points="200,865.2 200,865.2 206.6,868.3 206.6,888.7 200,895.2" fill="#fff" stroke="#3a3a3a" stroke-width="1.0" stroke-linejoin="round" />
<line x1="200" y1="865.2" x2="200" y2="895.2" stroke="#2a2a2a" stroke-width="1.8" />
<polygon points="230.3,879.6 246.4,887.3 246.4,917.3 230.3,909.6" fill="#fff" stroke="#555" stroke-width="0.8" stroke-linejoin="round" />
<polygon points="230.3,879.6 230.3,879.6 236.9,882.8 236.9,903.1 230.3,909.6" fill="#fff" stroke="#3a3a3a" stroke-width="1.0" stroke-linejoin="round" />
<line x1="230.3" y1="879.6" x2="230.3" y2="909.6" stroke="#2a2a2a" stroke-width="1.8" />
<polygon points="268.5,897.8 285.8,906.1 285.8,936.1 268.5,927.8" fill="#fff" stroke="#555" stroke-width="0.8" stroke-linejoin="round" />
<polygon points="268.5,897.8 268.5,897.8 275.1,901 275.1,921.3 268.5,927.8" fill="#fff" stroke="#3a3a3a" stroke-width="1.0" stroke-linejoin="round" />
<line x1="268.5" y1="897.8" x2="268.5" y2="927.8" stroke="#2a2a2a" stroke-width="1.8" />
<polygon points="285.8,906.1 303.2,914.3 303.2,944.3 285.8,936.1" fill="#fff" stroke="#555" stroke-width="0.8" stroke-linejoin="round" />
<polygon points="285.8,906.1 285.8,906.1 292.5,909.2 292.5,929.6 285.8,936.1" fill="#fff" stroke="#3a3a3a" stroke-width="1.0" stroke-linejoin="round" />
<line x1="285.8" y1="906.1" x2="285.8" y2="936.1" stroke="#2a2a2a" stroke-width="1.8" />
<polygon points="303.2,914.3 318.9,921.8 318.9,951.8 303.2,944.3" fill="#fff" stroke="#555" stroke-width="0.8" stroke-linejoin="round" />
<polygon points="303.2,914.3 303.2,914.3 309.8,917.5 309.8,937.8 303.2,944.3" fill="#fff" stroke="#3a3a3a" stroke-width="1.0" stroke-linejoin="round" />
<line x1="303.2" y1="914.3" x2="303.2" y2="944.3" stroke="#2a2a2a" stroke-width="1.8" />
<polygon points="318.9,921.8 333.5,928.8 333.5,958.8 318.9,951.8" fill="#fff" stroke="#555" stroke-width="0.8" stroke-linejoin="round" />
<polygon points="318.9,921.8 318.9,921.8 325.6,925 325.6,945.3 318.9,951.8" fill="#fff" stroke="#3a3a3a" stroke-width="1.0" stroke-linejoin="round" />
<line x1="318.9" y1="921.8" x2="318.9" y2="951.8" stroke="#2a2a2a" stroke-width="1.8" />
<polygon points="356.8,939.8 372.9,947.5 372.9,977.5 356.8,969.8" fill="#fff" stroke="#555" stroke-width="0.8" stroke-linejoin="round" />
<polygon points="356.8,939.8 356.8,939.8 363.4,943 363.4,963.3 356.8,969.8" fill="#fff" stroke="#3a3a3a" stroke-width="1.0" stroke-linejoin="round" />
<line x1="356.8" y1="939.8" x2="356.8" y2="969.8" stroke="#2a2a2a" stroke-width="1.8" />
<polygon points="390.3,955.8 404.4,962.5 404.4,992.5 390.3,985.8" fill="#fff" stroke="#555" stroke-width="0.8" stroke-linejoin="round" />
<polygon points="390.3,955.8 390.3,955.8 396.9,958.9 396.9,979.3 390.3,985.8" fill="#fff" stroke="#3a3a3a" stroke-width="1.0" stroke-linejoin="round" />
<line x1="390.3" y1="955.8" x2="390.3" y2="985.8" stroke="#2a2a2a" stroke-width="1.8" />
<polygon points="425.7,972.6 441.5,980.1 441.5,1010.1 425.7,1002.6" fill="#fff" stroke="#555" stroke-width="0.8" stroke-linejoin="round" />
<polygon points="425.7,972.6 425.7,972.6 432.3,975.8 432.3,996.1 425.7,1002.6" fill="#fff" stroke="#3a3a3a" stroke-width="1.0" stroke-linejoin="round" />
<line x1="425.7" y1="972.6" x2="425.7" y2="1002.6" stroke="#2a2a2a" stroke-width="1.8" />
<polygon points="441.5,980.1 456.8,987.4 456.8,1017.4 441.5,1010.1" fill="#fff" stroke="#555" stroke-width="0.8" stroke-linejoin="round" />
<polygon points="441.5,980.1 441.5,980.1 448.1,983.3 448.1,1003.6 441.5,1010.1" fill="#fff" stroke="#3a3a3a" stroke-width="1.0" stroke-linejoin="round" />
<line x1="441.5" y1="980.1" x2="441.5" y2="1010.1" stroke="#2a2a2a" stroke-width="1.8" />
<polygon points="456.8,987.4 472.2,994.8 472.2,1024.8 456.8,1017.4" fill="#fff" stroke="#555" stroke-width="0.8" stroke-linejoin="round" />
<polygon points="456.8,987.4 456.8,987.4 463.5,990.6 463.5,1011 456.8,1017.4" fill="#fff" stroke="#3a3a3a" stroke-width="1.0" stroke-linejoin="round" />
<line x1="456.8" y1="987.4" x2="456.8" y2="1017.4" stroke="#2a2a2a" stroke-width="1.8" />
<polygon points="472.2,994.8 487.2,1001.9 487.2,1031.9 472.2,1024.8" fill="#fff" stroke="#555" stroke-width="0.8" stroke-linejoin="round" />
<polygon points="472.2,994.8 472.2,994.8 478.8,997.9 478.8,1018.3 472.2,1024.8" fill="#fff" stroke="#3a3a3a" stroke-width="1.0" stroke-linejoin="round" />
<line x1="472.2" y1="994.8" x2="472.2" y2="1024.8" stroke="#2a2a2a" stroke-width="1.8" />
<polygon points="507.3,999.4 515.6,991.3 515.6,1021.3 507.3,1029.4" fill="#fff" stroke="#555" stroke-width="0.8" stroke-linejoin="round" />
<polygon points="515.6,991.3 515.6,991.3 507.3,999.4 507.3,1017.4 515.6,1021.3" fill="#fff" stroke="#3a3a3a" stroke-width="1.0" stroke-linejoin="round" />
<line x1="515.6" y1="991.3" x2="515.6" y2="1021.3" stroke="#2a2a2a" stroke-width="1.8" />
<polygon points="518.3,988.6 528.3,978.9 528.3,1008.9 518.3,1018.6" fill="#fff" stroke="#555" stroke-width="0.8" stroke-linejoin="round" />
<polygon points="528.3,978.9 528.3,978.9 518.8,988.1 518.8,1004.4 528.3,1008.9" fill="#fff" stroke="#3a3a3a" stroke-width="1.0" stroke-linejoin="round" />
<line x1="528.3" y1="978.9" x2="528.3" y2="1008.9" stroke="#2a2a2a" stroke-width="1.8" />
<polygon points="529.4,977.8 539.6,967.8 539.6,997.8 529.4,1007.8" fill="#fff" stroke="#555" stroke-width="0.8" stroke-linejoin="round" />
<polygon points="539.6,967.8 539.6,967.8 530.1,977.1 530.1,993.3 539.6,997.8" fill="#fff" stroke="#3a3a3a" stroke-width="1.0" stroke-linejoin="round" />
<line x1="539.6" y1="967.8" x2="539.6" y2="997.8" stroke="#2a2a2a" stroke-width="1.8" />
<polygon points="541.8,965.6 552.3,955.4 552.3,985.4 541.8,995.6" fill="#fff" stroke="#555" stroke-width="0.8" stroke-linejoin="round" />
<polygon points="552.3,955.4 552.3,955.4 542.8,964.6 542.8,980.9 552.3,985.4" fill="#fff" stroke="#3a3a3a" stroke-width="1.0" stroke-linejoin="round" />
<line x1="552.3" y1="955.4" x2="552.3" y2="985.4" stroke="#2a2a2a" stroke-width="1.8" />
<polygon points="561.1,946.8 570.8,937.3 570.8,967.3 561.1,976.8" fill="#fff" stroke="#555" stroke-width="0.8" stroke-linejoin="round" />
<polygon points="570.8,937.3 570.8,937.3 561.3,946.6 561.3,962.8 570.8,967.3" fill="#fff" stroke="#3a3a3a" stroke-width="1.0" stroke-linejoin="round" />
<line x1="570.8" y1="937.3" x2="570.8" y2="967.3" stroke="#2a2a2a" stroke-width="1.8" />
<polygon points="574.9,933.2 584.8,923.5 584.8,953.5 574.9,963.2" fill="#fff" stroke="#555" stroke-width="0.8" stroke-linejoin="round" />
<polygon points="584.8,923.5 584.8,923.5 575.4,932.8 575.4,949 584.8,953.5" fill="#fff" stroke="#3a3a3a" stroke-width="1.0" stroke-linejoin="round" />
<line x1="584.8" y1="923.5" x2="584.8" y2="953.5" stroke="#2a2a2a" stroke-width="1.8" />
<polygon points="587.3,921.1 597.5,911.1 597.5,941.1 587.3,951.1" fill="#fff" stroke="#555" stroke-width="0.8" stroke-linejoin="round" />
<polygon points="597.5,911.1 597.5,911.1 588.1,920.4 588.1,936.6 597.5,941.1" fill="#fff" stroke="#3a3a3a" stroke-width="1.0" stroke-linejoin="round" />
<line x1="597.5" y1="911.1" x2="597.5" y2="941.1" stroke="#2a2a2a" stroke-width="1.8" />
<polygon points="598.4,910.3 608.8,900 608.8,930 598.4,940.3" fill="#fff" stroke="#555" stroke-width="0.8" stroke-linejoin="round" />
<polygon points="608.8,900 608.8,900 599.4,909.3 599.4,925.5 608.8,930" fill="#fff" stroke="#3a3a3a" stroke-width="1.0" stroke-linejoin="round" />
<line x1="608.8" y1="900" x2="608.8" y2="930" stroke="#2a2a2a" stroke-width="1.8" />
<polygon points="609.4,899.5 618.8,890.3 618.8,920.3 609.4,929.5" fill="#fff" stroke="#555" stroke-width="0.8" stroke-linejoin="round" />
<polygon points="618.8,890.3 618.8,890.3 609.4,899.5 609.4,915.9 618.8,920.3" fill="#fff" stroke="#3a3a3a" stroke-width="1.0" stroke-linejoin="round" />
<line x1="618.8" y1="890.3" x2="618.8" y2="920.3" stroke="#2a2a2a" stroke-width="1.8" />
<polygon points="626,883.3 635.9,873.6 635.9,903.6 626,913.3" fill="#fff" stroke="#555" stroke-width="0.8" stroke-linejoin="round" />
<polygon points="635.9,873.6 635.9,873.6 626.4,882.8 626.4,899.1 635.9,903.6" fill="#fff" stroke="#3a3a3a" stroke-width="1.0" stroke-linejoin="round" />
<line x1="635.9" y1="873.6" x2="635.9" y2="903.6" stroke="#2a2a2a" stroke-width="1.8" />
<polygon points="643.9,865.8 654.1,855.8 654.1,885.8 643.9,895.8" fill="#fff" stroke="#555" stroke-width="0.8" stroke-linejoin="round" />
<polygon points="654.1,855.8 654.1,855.8 644.7,865 644.7,881.3 654.1,885.8" fill="#fff" stroke="#3a3a3a" stroke-width="1.0" stroke-linejoin="round" />
<line x1="654.1" y1="855.8" x2="654.1" y2="885.8" stroke="#2a2a2a" stroke-width="1.8" />
<polygon points="656.3,853.6 666.5,843.6 666.5,873.6 656.3,883.6" fill="#fff" stroke="#555" stroke-width="0.8" stroke-linejoin="round" />
<polygon points="666.5,843.6 666.5,843.6 657.1,852.9 657.1,869.1 666.5,873.6" fill="#fff" stroke="#3a3a3a" stroke-width="1.0" stroke-linejoin="round" />
<line x1="666.5" y1="843.6" x2="666.5" y2="873.6" stroke="#2a2a2a" stroke-width="1.8" />
<polygon points="671.5,838.8 682.5,828 682.5,858 671.5,868.8" fill="#fff" stroke="#555" stroke-width="0.8" stroke-linejoin="round" />
<polygon points="682.5,828 682.5,828 673.1,837.2 673.1,853.5 682.5,858" fill="#fff" stroke="#3a3a3a" stroke-width="1.0" stroke-linejoin="round" />
<line x1="682.5" y1="828" x2="682.5" y2="858" stroke="#2a2a2a" stroke-width="1.8" />
<polygon points="682.5,828 693.6,817.1 693.6,847.1 682.5,858" fill="#fff" stroke="#555" stroke-width="0.8" stroke-linejoin="round" />
<polygon points="693.6,817.1 693.6,817.1 684.1,826.4 684.1,842.6 693.6,847.1" fill="#fff" stroke="#3a3a3a" stroke-width="1.0" stroke-linejoin="round" />
<line x1="693.6" y1="817.1" x2="693.6" y2="847.1" stroke="#2a2a2a" stroke-width="1.8" />
<polygon points="693.6,817.1 704.6,806.4 704.6,836.4 693.6,847.1" fill="#fff" stroke="#555" stroke-width="0.8" stroke-linejoin="round" />
<polygon points="704.6,806.4 704.6,806.4 695.2,815.6 695.2,831.9 704.6,836.4" fill="#fff" stroke="#3a3a3a" stroke-width="1.0" stroke-linejoin="round" />
<line x1="704.6" y1="806.4" x2="704.6" y2="836.4" stroke="#2a2a2a" stroke-width="1.8" />
<polygon points="715.9,795.3 727,784.5 727,814.5 715.9,825.3" fill="#fff" stroke="#555" stroke-width="0.8" stroke-linejoin="round" />
<polygon points="727,784.5 727,784.5 717.5,793.7 717.5,810 727,814.5" fill="#fff" stroke="#3a3a3a" stroke-width="1.0" stroke-linejoin="round" />
<line x1="727" y1="784.5" x2="727" y2="814.5" stroke="#2a2a2a" stroke-width="1.8" />
<polygon points="727,784.5 738,773.7 738,803.7 727,814.5" fill="#fff" stroke="#555" stroke-width="0.8" stroke-linejoin="round" />
<polygon points="738,773.7 738,773.7 728.6,782.9 728.6,799.2 738,803.7" fill="#fff" stroke="#3a3a3a" stroke-width="1.0" stroke-linejoin="round" />
<line x1="738" y1="773.7" x2="738" y2="803.7" stroke="#2a2a2a" stroke-width="1.8" />
<polygon points="738,773.7 748.8,763.1 748.8,793.1 738,803.7" fill="#fff" stroke="#555" stroke-width="0.8" stroke-linejoin="round" />
<polygon points="748.8,763.1 748.8,763.1 739.3,772.4 739.3,788.6 748.8,793.1" fill="#fff" stroke="#3a3a3a" stroke-width="1.0" stroke-linejoin="round" />
<line x1="748.8" y1="763.1" x2="748.8" y2="793.1" stroke="#2a2a2a" stroke-width="1.8" />
<polygon points="748.8,763.1 760.1,752.1 760.1,782.1 748.8,793.1" fill="#fff" stroke="#555" stroke-width="0.8" stroke-linejoin="round" />
<polygon points="760.1,752.1 760.1,752.1 750.6,761.3 750.6,777.6 760.1,782.1" fill="#fff" stroke="#3a3a3a" stroke-width="1.0" stroke-linejoin="round" />
<line x1="760.1" y1="752.1" x2="760.1" y2="782.1" stroke="#2a2a2a" stroke-width="1.8" />
<text x="622.5" y="653.0" font-family="Liberation Sans" font-weight="bold" font-size="16.5" text-anchor="middle" fill="#111" stroke="#111" stroke-width="0.35">1</text>
<text x="285.5" y="959.3" font-family="Liberation Sans" font-weight="bold" font-size="16.5" text-anchor="middle" fill="#111" stroke="#111" stroke-width="0.35">1</text>
<text x="284.0" y="707.5" font-family="Liberation Sans" font-weight="bold" font-size="16.5" text-anchor="middle" fill="#111" stroke="#111" stroke-width="0.35">2</text>
<text x="590.8" y="861.1" font-family="Liberation Sans" font-weight="bold" font-size="16.5" text-anchor="middle" fill="#111" stroke="#111" stroke-width="0.35">3</text>
<text x="427.3" y="812.2" font-family="Liberation Sans" font-weight="bold" font-size="16.5" text-anchor="middle" fill="#111" stroke="#111" stroke-width="0.35">4</text>
<text x="590.8" y="764.4" font-family="Liberation Sans" font-weight="bold" font-size="16.5" text-anchor="middle" fill="#111" stroke="#111" stroke-width="0.35">5</text>
<text x="512.3" y="823.3" font-family="Liberation Sans" font-weight="bold" font-size="16.5" text-anchor="middle" fill="#111" stroke="#111" stroke-width="0.35">6</text>
<text x="261.3" y="790.5" font-family="Liberation Sans" font-weight="bold" font-size="16.5" text-anchor="middle" fill="#111" stroke="#111" stroke-width="0.35">7</text>
<text x="429.6" y="673.7" font-family="Liberation Sans" font-weight="bold" font-size="16.5" text-anchor="middle" fill="#111" stroke="#111" stroke-width="0.35">8</text>
<text x="385.6" y="711.6" font-family="Liberation Sans" font-weight="bold" font-size="16.5" text-anchor="middle" fill="#111" stroke="#111" stroke-width="0.35">9</text>
<text x="350.2" y="725.8" font-family="Liberation Sans" font-weight="bold" font-size="16.5" text-anchor="middle" fill="#111" stroke="#111" stroke-width="0.35">10</text>
<text x="318.4" y="756.0" font-family="Liberation Sans" font-weight="bold" font-size="16.5" text-anchor="middle" fill="#111" stroke="#111" stroke-width="0.35">11</text></svg><div id="leg"><div>1. Giriş / Entrance</div><div>2. Kütüphane / Library</div><div>3. Çocuk Kütüphanesi / Children’s Library</div><div>4. Sofa - Okuma Alanı / Amfi</div><div>5. Serbest Çalışma Alanı / Working Area</div><div>6. Kafe / Cafe</div><div>7. Hizmet Alanı / Service Area</div><div>8. Erkek Tuvalet / Men’s Room</div><div>9. Kadın Tuvalet / Women’s Room</div><div>10. Erkek Mescid / Men Prayer Room</div><div>11. Kadın Mescid / Women Prayer Room</div></div>
</body></html>
